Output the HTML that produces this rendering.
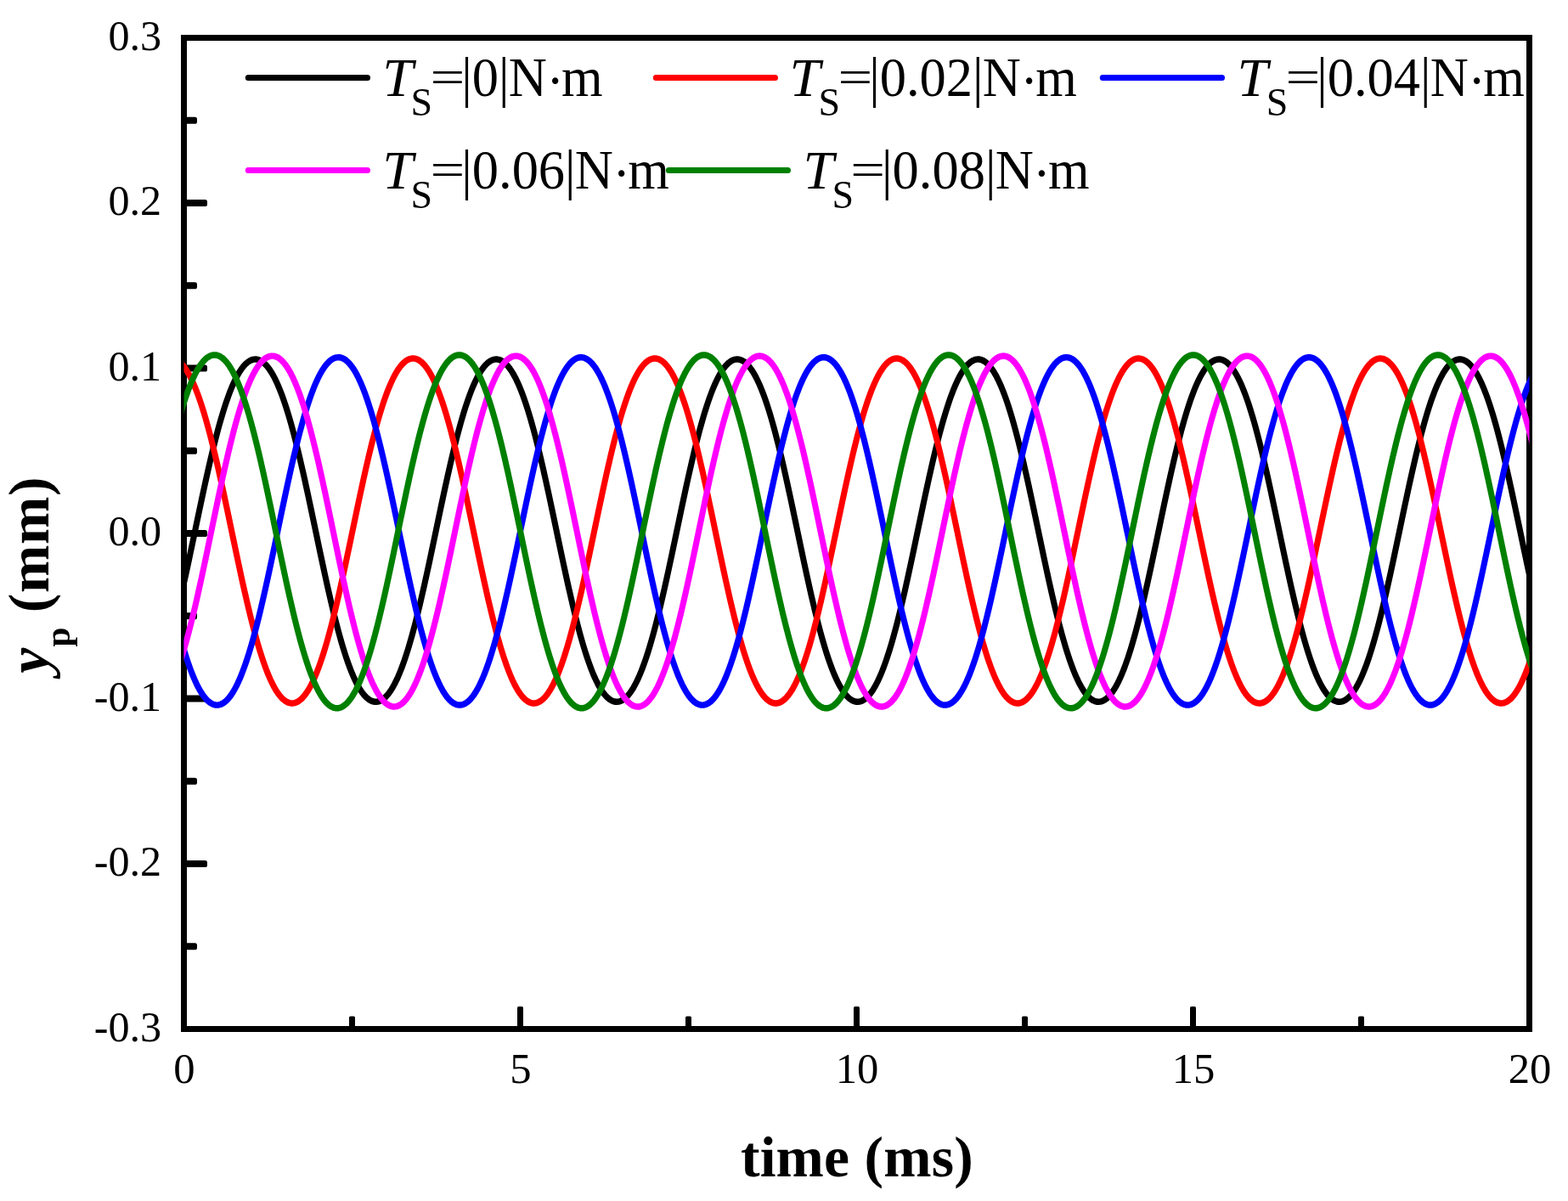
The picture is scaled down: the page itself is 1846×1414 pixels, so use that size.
<!DOCTYPE html>
<html lang="en"><head><meta charset="utf-8"><title>yp vs time</title>
<style>
html,body{margin:0;padding:0;background:#fff;}
body{width:1846px;height:1414px;overflow:hidden;}
svg{display:block;}
text{font-family:"Liberation Serif",serif;fill:#000;}
.tick{font-size:50.7px;}
.leg{font-size:62.5px;}
.sub{font-size:46px;}
.title{font-size:67.6px;font-weight:bold;}
.it{font-style:italic;}
</style></head><body>
<svg width="1846" height="1414" viewBox="0 0 1846 1414">
<rect x="0" y="0" width="1846" height="1414" fill="#ffffff"/>
<defs><clipPath id="plot"><rect x="216.50" y="44.50" width="1584.00" height="1167.00"/></clipPath></defs>
<rect x="216.50" y="44.50" width="1584.00" height="1167.00" fill="none" stroke="#000" stroke-width="7"/>
<g fill="#000"><rect x="216.00" y="137.75" width="16.00" height="8" rx="2.6"/><rect x="216.00" y="235.00" width="28.00" height="8" rx="2.6"/><rect x="216.00" y="332.25" width="16.00" height="8" rx="2.6"/><rect x="216.00" y="429.50" width="28.00" height="8" rx="2.6"/><rect x="216.00" y="526.75" width="16.00" height="8" rx="2.6"/><rect x="216.00" y="624.00" width="28.00" height="8" rx="2.6"/><rect x="216.00" y="721.25" width="16.00" height="8" rx="2.6"/><rect x="216.00" y="818.50" width="28.00" height="8" rx="2.6"/><rect x="216.00" y="915.75" width="16.00" height="8" rx="2.6"/><rect x="216.00" y="1013.00" width="28.00" height="8" rx="2.6"/><rect x="216.00" y="1110.25" width="16.00" height="8" rx="2.6"/><rect x="411.00" y="1196.40" width="7" height="15.60" rx="1.6"/><rect x="609.00" y="1185.00" width="7" height="27.00" rx="1.6"/><rect x="807.00" y="1196.40" width="7" height="15.60" rx="1.6"/><rect x="1005.00" y="1185.00" width="7" height="27.00" rx="1.6"/><rect x="1203.00" y="1196.40" width="7" height="15.60" rx="1.6"/><rect x="1401.00" y="1185.00" width="7" height="27.00" rx="1.6"/><rect x="1599.00" y="1196.40" width="7" height="15.60" rx="1.6"/></g>
<g clip-path="url(#plot)"><g fill="none" stroke-width="7.1" stroke-linejoin="round" transform="scale(1,1.05)">
<path stroke="#000000" d="M210.5 678.72 L212.0 672.65 L213.5 666.47 L215.0 660.18 L216.5 653.80 L218.0 647.32 L219.5 640.77 L221.0 634.15 L222.5 627.47 L224.0 620.75 L225.5 613.98 L227.0 607.18 L228.5 600.36 L230.0 593.54 L231.5 586.72 L233.0 579.91 L234.5 573.12 L236.0 566.37 L237.5 559.66 L239.0 553.00 L240.5 546.41 L242.0 539.89 L243.5 533.45 L245.0 527.10 L246.5 520.85 L248.0 514.72 L249.5 508.69 L251.0 502.79 L252.5 497.03 L254.0 491.40 L255.5 485.91 L257.0 480.57 L258.5 475.39 L260.0 470.37 L261.5 465.51 L263.0 460.82 L264.5 456.30 L266.0 451.95 L267.5 447.79 L269.0 443.80 L270.5 439.99 L272.0 436.37 L273.5 432.93 L275.0 429.68 L276.5 426.62 L278.0 423.74 L279.5 421.04 L281.0 418.54 L282.5 416.22 L284.0 414.09 L285.5 412.15 L287.0 410.39 L288.5 408.81 L290.0 407.43 L291.5 406.22 L293.0 405.20 L294.5 404.37 L296.0 403.72 L297.5 403.25 L299.0 402.96 L300.5 402.86 L302.0 402.94 L303.5 403.20 L305.0 403.64 L306.5 404.27 L308.0 405.08 L309.5 406.08 L311.0 407.26 L312.5 408.62 L314.0 410.17 L315.5 411.90 L317.0 413.82 L318.5 415.93 L320.0 418.22 L321.5 420.70 L323.0 423.37 L324.5 426.22 L326.0 429.26 L327.5 432.49 L329.0 435.90 L330.5 439.50 L332.0 443.28 L333.5 447.24 L335.0 451.39 L336.5 455.71 L338.0 460.20 L339.5 464.87 L341.0 469.71 L342.5 474.71 L344.0 479.87 L345.5 485.19 L347.0 490.66 L348.5 496.27 L350.0 502.02 L351.5 507.90 L353.0 513.91 L354.5 520.03 L356.0 526.26 L357.5 532.60 L359.0 539.02 L360.5 545.53 L362.0 552.12 L363.5 558.77 L365.0 565.47 L366.5 572.22 L368.0 579.00 L369.5 585.81 L371.0 592.63 L372.5 599.45 L374.0 606.27 L375.5 613.07 L377.0 619.85 L378.5 626.58 L380.0 633.27 L381.5 639.89 L383.0 646.45 L384.5 652.94 L386.0 659.33 L387.5 665.64 L389.0 671.83 L390.5 677.92 L392.0 683.88 L393.5 689.72 L395.0 695.43 L396.5 700.99 L398.0 706.41 L399.5 711.68 L401.0 716.79 L402.5 721.73 L404.0 726.51 L405.5 731.12 L407.0 735.56 L408.5 739.82 L410.0 743.91 L411.5 747.81 L413.0 751.53 L414.5 755.07 L416.0 758.42 L417.5 761.58 L419.0 764.56 L420.5 767.35 L422.0 769.96 L423.5 772.37 L425.0 774.61 L426.5 776.65 L428.0 778.51 L429.5 780.18 L431.0 781.67 L432.5 782.97 L434.0 784.08 L435.5 785.02 L437.0 785.77 L438.5 786.33 L440.0 786.72 L441.5 786.92 L443.0 786.94 L444.5 786.77 L446.0 786.43 L447.5 785.90 L449.0 785.18 L450.5 784.29 L452.0 783.21 L453.5 781.94 L455.0 780.49 L456.5 778.86 L458.0 777.04 L459.5 775.03 L461.0 772.84 L462.5 770.46 L464.0 767.89 L465.5 765.13 L467.0 762.19 L468.5 759.07 L470.0 755.75 L471.5 752.25 L473.0 748.57 L474.5 744.70 L476.0 740.66 L477.5 736.43 L479.0 732.03 L480.5 727.45 L482.0 722.70 L483.5 717.79 L485.0 712.71 L486.5 707.48 L488.0 702.09 L489.5 696.55 L491.0 690.88 L492.5 685.06 L494.0 679.12 L495.5 673.06 L497.0 666.88 L498.5 660.60 L500.0 654.22 L501.5 647.76 L503.0 641.21 L504.5 634.60 L506.0 627.92 L507.5 621.20 L509.0 614.43 L510.5 607.63 L512.0 600.82 L513.5 593.99 L515.0 587.17 L516.5 580.36 L518.0 573.57 L519.5 566.82 L521.0 560.10 L522.5 553.44 L524.0 546.84 L525.5 540.32 L527.0 533.88 L528.5 527.52 L530.0 521.27 L531.5 515.12 L533.0 509.09 L534.5 503.18 L536.0 497.41 L537.5 491.77 L539.0 486.27 L540.5 480.92 L542.0 475.73 L543.5 470.70 L545.0 465.83 L546.5 461.12 L548.0 456.59 L549.5 452.24 L551.0 448.06 L552.5 444.06 L554.0 440.24 L555.5 436.61 L557.0 433.16 L558.5 429.89 L560.0 426.81 L561.5 423.92 L563.0 421.22 L564.5 418.70 L566.0 416.37 L567.5 414.23 L569.0 412.27 L570.5 410.50 L572.0 408.91 L573.5 407.51 L575.0 406.30 L576.5 405.27 L578.0 404.42 L579.5 403.75 L581.0 403.27 L582.5 402.97 L584.0 402.86 L585.5 402.93 L587.0 403.18 L588.5 403.61 L590.0 404.22 L591.5 405.02 L593.0 406.00 L594.5 407.17 L596.0 408.52 L597.5 410.06 L599.0 411.78 L600.5 413.69 L602.0 415.78 L603.5 418.06 L605.0 420.53 L606.5 423.18 L608.0 426.02 L609.5 429.05 L611.0 432.27 L612.5 435.67 L614.0 439.25 L615.5 443.02 L617.0 446.97 L618.5 451.10 L620.0 455.41 L621.5 459.90 L623.0 464.55 L624.5 469.38 L626.0 474.37 L627.5 479.52 L629.0 484.83 L630.5 490.29 L632.0 495.89 L633.5 501.63 L635.0 507.50 L636.5 513.50 L638.0 519.62 L639.5 525.84 L641.0 532.17 L642.5 538.59 L644.0 545.10 L645.5 551.68 L647.0 558.32 L648.5 565.02 L650.0 571.77 L651.5 578.55 L653.0 585.35 L654.5 592.17 L656.0 599.00 L657.5 605.82 L659.0 612.62 L660.5 619.39 L662.0 626.13 L663.5 632.82 L665.0 639.45 L666.5 646.02 L668.0 652.51 L669.5 658.91 L671.0 665.22 L672.5 671.42 L674.0 677.52 L675.5 683.49 L677.0 689.34 L678.5 695.05 L680.0 700.63 L681.5 706.05 L683.0 711.33 L684.5 716.45 L686.0 721.41 L687.5 726.20 L689.0 730.82 L690.5 735.27 L692.0 739.55 L693.5 743.64 L695.0 747.56 L696.5 751.29 L698.0 754.84 L699.5 758.20 L701.0 761.38 L702.5 764.37 L704.0 767.17 L705.5 769.79 L707.0 772.22 L708.5 774.46 L710.0 776.52 L711.5 778.39 L713.0 780.07 L714.5 781.57 L716.0 782.89 L717.5 784.02 L719.0 784.96 L720.5 785.72 L722.0 786.30 L723.5 786.70 L725.0 786.91 L726.5 786.94 L728.0 786.79 L729.5 786.46 L731.0 785.94 L732.5 785.24 L734.0 784.35 L735.5 783.28 L737.0 782.03 L738.5 780.59 L740.0 778.97 L741.5 777.16 L743.0 775.17 L744.5 772.99 L746.0 770.62 L747.5 768.07 L749.0 765.32 L750.5 762.39 L752.0 759.28 L753.5 755.98 L755.0 752.49 L756.5 748.82 L758.0 744.97 L759.5 740.93 L761.0 736.72 L762.5 732.32 L764.0 727.76 L765.5 723.02 L767.0 718.12 L768.5 713.05 L770.0 707.83 L771.5 702.45 L773.0 696.93 L774.5 691.26 L776.0 685.45 L777.5 679.52 L779.0 673.47 L780.5 667.30 L782.0 661.02 L783.5 654.65 L785.0 648.19 L786.5 641.65 L788.0 635.04 L789.5 628.37 L791.0 621.65 L792.5 614.88 L794.0 608.09 L795.5 601.27 L797.0 594.45 L798.5 587.63 L800.0 580.81 L801.5 574.02 L803.0 567.27 L804.5 560.55 L806.0 553.88 L807.5 547.28 L809.0 540.75 L810.5 534.30 L812.0 527.94 L813.5 521.68 L815.0 515.53 L816.5 509.49 L818.0 503.57 L819.5 497.79 L821.0 492.14 L822.5 486.63 L824.0 481.27 L825.5 476.07 L827.0 471.03 L828.5 466.14 L830.0 461.43 L831.5 456.89 L833.0 452.52 L834.5 448.33 L836.0 444.32 L837.5 440.49 L839.0 436.84 L840.5 433.38 L842.0 430.10 L843.5 427.01 L845.0 424.11 L846.5 421.39 L848.0 418.86 L849.5 416.52 L851.0 414.36 L852.5 412.39 L854.0 410.61 L855.5 409.01 L857.0 407.60 L858.5 406.37 L860.0 405.33 L861.5 404.47 L863.0 403.79 L864.5 403.30 L866.0 402.99 L867.5 402.86 L869.0 402.92 L870.5 403.15 L872.0 403.57 L873.5 404.18 L875.0 404.96 L876.5 405.93 L878.0 407.09 L879.5 408.43 L881.0 409.95 L882.5 411.66 L884.0 413.55 L885.5 415.64 L887.0 417.90 L888.5 420.36 L890.0 423.00 L891.5 425.83 L893.0 428.85 L894.5 432.05 L896.0 435.44 L897.5 439.01 L899.0 442.77 L900.5 446.70 L902.0 450.82 L903.5 455.12 L905.0 459.59 L906.5 464.24 L908.0 469.05 L909.5 474.03 L911.0 479.17 L912.5 484.47 L914.0 489.92 L915.5 495.51 L917.0 501.24 L918.5 507.11 L920.0 513.10 L921.5 519.21 L923.0 525.43 L924.5 531.75 L926.0 538.16 L927.5 544.66 L929.0 551.24 L930.5 557.88 L932.0 564.57 L933.5 571.32 L935.0 578.10 L936.5 584.90 L938.0 591.72 L939.5 598.54 L941.0 605.36 L942.5 612.17 L944.0 618.94 L945.5 625.68 L947.0 632.38 L948.5 639.01 L950.0 645.58 L951.5 652.08 L953.0 658.49 L954.5 664.80 L956.0 671.01 L957.5 677.11 L959.0 683.10 L960.5 688.95 L962.0 694.68 L963.5 700.26 L965.0 705.70 L966.5 710.98 L968.0 716.11 L969.5 721.08 L971.0 725.89 L972.5 730.52 L974.0 734.98 L975.5 739.27 L977.0 743.37 L978.5 747.30 L980.0 751.04 L981.5 754.61 L983.0 757.98 L984.5 761.17 L986.0 764.17 L987.5 766.99 L989.0 769.62 L990.5 772.06 L992.0 774.32 L993.5 776.39 L995.0 778.27 L996.5 779.97 L998.0 781.48 L999.5 782.80 L1001.0 783.95 L1002.5 784.90 L1004.0 785.68 L1005.5 786.27 L1007.0 786.68 L1008.5 786.90 L1010.0 786.95 L1011.5 786.81 L1013.0 786.48 L1014.5 785.98 L1016.0 785.29 L1017.5 784.42 L1019.0 783.36 L1020.5 782.12 L1022.0 780.70 L1023.5 779.08 L1025.0 777.29 L1026.5 775.31 L1028.0 773.14 L1029.5 770.78 L1031.0 768.24 L1032.5 765.51 L1034.0 762.60 L1035.5 759.49 L1037.0 756.20 L1038.5 752.73 L1040.0 749.07 L1041.5 745.23 L1043.0 741.21 L1044.5 737.00 L1046.0 732.62 L1047.5 728.07 L1049.0 723.34 L1050.5 718.45 L1052.0 713.40 L1053.5 708.18 L1055.0 702.82 L1056.5 697.30 L1058.0 691.64 L1059.5 685.85 L1061.0 679.92 L1062.5 673.87 L1064.0 667.71 L1065.5 661.45 L1067.0 655.08 L1068.5 648.62 L1070.0 642.09 L1071.5 635.48 L1073.0 628.81 L1074.5 622.09 L1076.0 615.33 L1077.5 608.54 L1079.0 601.73 L1080.5 594.90 L1082.0 588.08 L1083.5 581.27 L1085.0 574.48 L1086.5 567.71 L1088.0 561.00 L1089.5 554.33 L1091.0 547.72 L1092.5 541.18 L1094.0 534.73 L1095.5 528.36 L1097.0 522.10 L1098.5 515.93 L1100.0 509.89 L1101.5 503.96 L1103.0 498.17 L1104.5 492.51 L1106.0 486.99 L1107.5 481.63 L1109.0 476.41 L1110.5 471.36 L1112.0 466.47 L1113.5 461.74 L1115.0 457.19 L1116.5 452.81 L1118.0 448.60 L1119.5 444.58 L1121.0 440.74 L1122.5 437.08 L1124.0 433.61 L1125.5 430.32 L1127.0 427.21 L1128.5 424.30 L1130.0 421.57 L1131.5 419.03 L1133.0 416.67 L1134.5 414.50 L1136.0 412.52 L1137.5 410.72 L1139.0 409.11 L1140.5 407.69 L1142.0 406.45 L1143.5 405.39 L1145.0 404.52 L1146.5 403.83 L1148.0 403.33 L1149.5 403.00 L1151.0 402.86 L1152.5 402.91 L1154.0 403.13 L1155.5 403.54 L1157.0 404.13 L1158.5 404.91 L1160.0 405.86 L1161.5 407.00 L1163.0 408.33 L1164.5 409.84 L1166.0 411.54 L1167.5 413.42 L1169.0 415.49 L1170.5 417.75 L1172.0 420.19 L1173.5 422.82 L1175.0 425.64 L1176.5 428.64 L1178.0 431.83 L1179.5 435.20 L1181.0 438.76 L1182.5 442.51 L1184.0 446.44 L1185.5 450.54 L1187.0 454.83 L1188.5 459.29 L1190.0 463.92 L1191.5 468.73 L1193.0 473.70 L1194.5 478.83 L1196.0 484.11 L1197.5 489.55 L1199.0 495.13 L1200.5 500.86 L1202.0 506.71 L1203.5 512.70 L1205.0 518.80 L1206.5 525.01 L1208.0 531.32 L1209.5 537.73 L1211.0 544.23 L1212.5 550.80 L1214.0 557.43 L1215.5 564.13 L1217.0 570.87 L1218.5 577.64 L1220.0 584.45 L1221.5 591.26 L1223.0 598.09 L1224.5 604.91 L1226.0 611.71 L1227.5 618.49 L1229.0 625.24 L1230.5 631.93 L1232.0 638.57 L1233.5 645.15 L1235.0 651.65 L1236.5 658.06 L1238.0 664.38 L1239.5 670.60 L1241.0 676.71 L1242.5 682.70 L1244.0 688.57 L1245.5 694.30 L1247.0 699.89 L1248.5 705.34 L1250.0 710.64 L1251.5 715.78 L1253.0 720.76 L1254.5 725.57 L1256.0 730.22 L1257.5 734.69 L1259.0 738.99 L1260.5 743.11 L1262.0 747.04 L1263.5 750.80 L1265.0 754.37 L1266.5 757.76 L1268.0 760.96 L1269.5 763.98 L1271.0 766.81 L1272.5 769.45 L1274.0 771.91 L1275.5 774.17 L1277.0 776.26 L1278.5 778.15 L1280.0 779.86 L1281.5 781.38 L1283.0 782.72 L1284.5 783.88 L1286.0 784.85 L1287.5 785.63 L1289.0 786.24 L1290.5 786.66 L1292.0 786.89 L1293.5 786.95 L1295.0 786.82 L1296.5 786.51 L1298.0 786.02 L1299.5 785.34 L1301.0 784.48 L1302.5 783.44 L1304.0 782.21 L1305.5 780.80 L1307.0 779.20 L1308.5 777.41 L1310.0 775.45 L1311.5 773.29 L1313.0 770.95 L1314.5 768.42 L1316.0 765.70 L1317.5 762.80 L1319.0 759.71 L1320.5 756.43 L1322.0 752.97 L1323.5 749.32 L1325.0 745.49 L1326.5 741.48 L1328.0 737.29 L1329.5 732.92 L1331.0 728.38 L1332.5 723.66 L1334.0 718.78 L1335.5 713.74 L1337.0 708.54 L1338.5 703.18 L1340.0 697.67 L1341.5 692.02 L1343.0 686.24 L1344.5 680.32 L1346.0 674.28 L1347.5 668.13 L1349.0 661.87 L1350.5 655.51 L1352.0 649.06 L1353.5 642.53 L1355.0 635.92 L1356.5 629.26 L1358.0 622.54 L1359.5 615.79 L1361.0 609.00 L1362.5 602.18 L1364.0 595.36 L1365.5 588.54 L1367.0 581.72 L1368.5 574.93 L1370.0 568.16 L1371.5 561.44 L1373.0 554.77 L1374.5 548.16 L1376.0 541.62 L1377.5 535.16 L1379.0 528.79 L1380.5 522.51 L1382.0 516.34 L1383.5 510.29 L1385.0 504.36 L1386.5 498.55 L1388.0 492.88 L1389.5 487.36 L1391.0 481.98 L1392.5 476.76 L1394.0 471.69 L1395.5 466.79 L1397.0 462.05 L1398.5 457.48 L1400.0 453.09 L1401.5 448.88 L1403.0 444.84 L1404.5 440.99 L1406.0 437.32 L1407.5 433.83 L1409.0 430.53 L1410.5 427.41 L1412.0 424.49 L1413.5 421.74 L1415.0 419.19 L1416.5 416.82 L1418.0 414.64 L1419.5 412.65 L1421.0 410.84 L1422.5 409.22 L1424.0 407.78 L1425.5 406.53 L1427.0 405.46 L1428.5 404.57 L1430.0 403.87 L1431.5 403.35 L1433.0 403.02 L1434.5 402.87 L1436.0 402.90 L1437.5 403.11 L1439.0 403.51 L1440.5 404.09 L1442.0 404.85 L1443.5 405.79 L1445.0 406.92 L1446.5 408.24 L1448.0 409.74 L1449.5 411.42 L1451.0 413.29 L1452.5 415.35 L1454.0 417.59 L1455.5 420.02 L1457.0 422.64 L1458.5 425.44 L1460.0 428.43 L1461.5 431.61 L1463.0 434.97 L1464.5 438.52 L1466.0 442.25 L1467.5 446.17 L1469.0 450.26 L1470.5 454.54 L1472.0 458.99 L1473.5 463.61 L1475.0 468.40 L1476.5 473.36 L1478.0 478.48 L1479.5 483.76 L1481.0 489.18 L1482.5 494.76 L1484.0 500.47 L1485.5 506.32 L1487.0 512.29 L1488.5 518.39 L1490.0 524.59 L1491.5 530.90 L1493.0 537.30 L1494.5 543.79 L1496.0 550.36 L1497.5 556.99 L1499.0 563.68 L1500.5 570.41 L1502.0 577.19 L1503.5 583.99 L1505.0 590.81 L1506.5 597.63 L1508.0 604.46 L1509.5 611.26 L1511.0 618.04 L1512.5 624.79 L1514.0 631.49 L1515.5 638.13 L1517.0 644.71 L1518.5 651.22 L1520.0 657.64 L1521.5 663.97 L1523.0 670.19 L1524.5 676.31 L1526.0 682.31 L1527.5 688.18 L1529.0 693.92 L1530.5 699.52 L1532.0 704.98 L1533.5 710.29 L1535.0 715.44 L1536.5 720.43 L1538.0 725.25 L1539.5 729.91 L1541.0 734.40 L1542.5 738.70 L1544.0 742.84 L1545.5 746.79 L1547.0 750.56 L1548.5 754.14 L1550.0 757.54 L1551.5 760.76 L1553.0 763.78 L1554.5 766.63 L1556.0 769.28 L1557.5 771.75 L1559.0 774.03 L1560.5 776.12 L1562.0 778.03 L1563.5 779.75 L1565.0 781.29 L1566.5 782.64 L1568.0 783.80 L1569.5 784.79 L1571.0 785.59 L1572.5 786.20 L1574.0 786.63 L1575.5 786.88 L1577.0 786.95 L1578.5 786.84 L1580.0 786.54 L1581.5 786.06 L1583.0 785.39 L1584.5 784.54 L1586.0 783.51 L1587.5 782.30 L1589.0 780.90 L1590.5 779.31 L1592.0 777.54 L1593.5 775.58 L1595.0 773.44 L1596.5 771.11 L1598.0 768.59 L1599.5 765.89 L1601.0 763.00 L1602.5 759.92 L1604.0 756.65 L1605.5 753.20 L1607.0 749.57 L1608.5 745.75 L1610.0 741.75 L1611.5 737.57 L1613.0 733.22 L1614.5 728.69 L1616.0 723.98 L1617.5 719.11 L1619.0 714.08 L1620.5 708.89 L1622.0 703.54 L1623.5 698.04 L1625.0 692.40 L1626.5 686.63 L1628.0 680.72 L1629.5 674.69 L1631.0 668.54 L1632.5 662.29 L1634.0 655.93 L1635.5 649.49 L1637.0 642.96 L1638.5 636.37 L1640.0 629.71 L1641.5 622.99 L1643.0 616.24 L1644.5 609.45 L1646.0 602.64 L1647.5 595.81 L1649.0 588.99 L1650.5 582.18 L1652.0 575.38 L1653.5 568.61 L1655.0 561.89 L1656.5 555.21 L1658.0 548.60 L1659.5 542.05 L1661.0 535.59 L1662.5 529.21 L1664.0 522.93 L1665.5 516.75 L1667.0 510.69 L1668.5 504.75 L1670.0 498.93 L1671.5 493.26 L1673.0 487.72 L1674.5 482.33 L1676.0 477.10 L1677.5 472.02 L1679.0 467.11 L1680.5 462.36 L1682.0 457.78 L1683.5 453.38 L1685.0 449.15 L1686.5 445.11 L1688.0 441.24 L1689.5 437.56 L1691.0 434.06 L1692.5 430.74 L1694.0 427.62 L1695.5 424.68 L1697.0 421.92 L1698.5 419.35 L1700.0 416.97 L1701.5 414.78 L1703.0 412.77 L1704.5 410.95 L1706.0 409.32 L1707.5 407.87 L1709.0 406.60 L1710.5 405.52 L1712.0 404.63 L1713.5 403.91 L1715.0 403.38 L1716.5 403.04 L1718.0 402.87 L1719.5 402.89 L1721.0 403.09 L1722.5 403.47 L1724.0 404.04 L1725.5 404.79 L1727.0 405.72 L1728.5 406.84 L1730.0 408.14 L1731.5 409.63 L1733.0 411.30 L1734.5 413.16 L1736.0 415.20 L1737.5 417.44 L1739.0 419.85 L1740.5 422.46 L1742.0 425.25 L1743.5 428.23 L1745.0 431.39 L1746.5 434.74 L1748.0 438.28 L1749.5 442.00 L1751.0 445.90 L1752.5 449.99 L1754.0 454.25 L1755.5 458.69 L1757.0 463.30 L1758.5 468.08 L1760.0 473.02 L1761.5 478.13 L1763.0 483.40 L1764.5 488.82 L1766.0 494.38 L1767.5 500.09 L1769.0 505.92 L1770.5 511.89 L1772.0 517.98 L1773.5 524.17 L1775.0 530.48 L1776.5 536.87 L1778.0 543.35 L1779.5 549.92 L1781.0 556.54 L1782.5 563.23 L1784.0 569.96 L1785.5 576.74 L1787.0 583.54 L1788.5 590.36 L1790.0 597.18 L1791.5 604.00 L1793.0 610.81 L1794.5 617.59 L1796.0 624.34 L1797.5 631.04 L1799.0 637.69 L1800.5 644.28 L1802.0 650.79 L1803.5 657.21 L1805.0 663.55 L1806.5 669.78"/>
<path stroke="#ff0000" d="M210.5 405.20 L212.0 406.39 L213.5 407.76 L215.0 409.32 L216.5 411.07 L218.0 413.00 L219.5 415.12 L221.0 417.42 L222.5 419.92 L224.0 422.59 L225.5 425.46 L227.0 428.51 L228.5 431.75 L230.0 435.17 L231.5 438.78 L233.0 442.57 L234.5 446.54 L236.0 450.70 L237.5 455.02 L239.0 459.53 L240.5 464.21 L242.0 469.05 L243.5 474.06 L245.0 479.23 L246.5 484.55 L248.0 490.03 L249.5 495.65 L251.0 501.41 L252.5 507.29 L254.0 513.31 L255.5 519.44 L257.0 525.68 L258.5 532.02 L260.0 538.46 L261.5 544.98 L263.0 551.57 L264.5 558.23 L266.0 564.95 L267.5 571.71 L269.0 578.50 L270.5 585.32 L272.0 592.16 L273.5 599.00 L275.0 605.84 L276.5 612.66 L278.0 619.45 L279.5 626.20 L281.0 632.91 L282.5 639.57 L284.0 646.15 L285.5 652.66 L287.0 659.09 L288.5 665.42 L290.0 671.65 L291.5 677.77 L293.0 683.78 L294.5 689.65 L296.0 695.40 L297.5 701.00 L299.0 706.46 L300.5 711.77 L302.0 716.92 L303.5 721.92 L305.0 726.75 L306.5 731.40 L308.0 735.89 L309.5 740.20 L311.0 744.34 L312.5 748.29 L314.0 752.07 L315.5 755.66 L317.0 759.06 L318.5 762.28 L320.0 765.31 L321.5 768.16 L323.0 770.82 L324.5 773.29 L326.0 775.58 L327.5 777.68 L329.0 779.59 L330.5 781.32 L332.0 782.86 L333.5 784.22 L335.0 785.39 L336.5 786.38 L338.0 787.18 L339.5 787.80 L341.0 788.24 L342.5 788.50 L344.0 788.57 L345.5 788.46 L347.0 788.17 L348.5 787.69 L350.0 787.04 L351.5 786.19 L353.0 785.17 L354.5 783.96 L356.0 782.56 L357.5 780.99 L359.0 779.22 L360.5 777.27 L362.0 775.13 L363.5 772.81 L365.0 770.30 L366.5 767.60 L368.0 764.72 L369.5 761.65 L371.0 758.39 L372.5 754.95 L374.0 751.33 L375.5 747.52 L377.0 743.53 L378.5 739.36 L380.0 735.01 L381.5 730.49 L383.0 725.79 L384.5 720.93 L386.0 715.91 L387.5 710.72 L389.0 705.38 L390.5 699.89 L392.0 694.26 L393.5 688.49 L395.0 682.59 L396.5 676.56 L398.0 670.42 L399.5 664.17 L401.0 657.81 L402.5 651.37 L404.0 644.84 L405.5 638.24 L407.0 631.58 L408.5 624.86 L410.0 618.09 L411.5 611.29 L413.0 604.47 L414.5 597.63 L416.0 590.79 L417.5 583.96 L419.0 577.14 L420.5 570.35 L422.0 563.60 L423.5 556.89 L425.0 550.25 L426.5 543.67 L428.0 537.16 L429.5 530.75 L431.0 524.42 L432.5 518.21 L434.0 512.10 L435.5 506.11 L437.0 500.24 L438.5 494.51 L440.0 488.92 L441.5 483.48 L443.0 478.18 L444.5 473.05 L446.0 468.07 L447.5 463.26 L449.0 458.61 L450.5 454.14 L452.0 449.85 L453.5 445.73 L455.0 441.80 L456.5 438.04 L458.0 434.47 L459.5 431.09 L461.0 427.89 L462.5 424.87 L464.0 422.04 L465.5 419.40 L467.0 416.95 L468.5 414.68 L470.0 412.60 L471.5 410.71 L473.0 409.00 L474.5 407.47 L476.0 406.14 L477.5 404.98 L479.0 404.01 L480.5 403.22 L482.0 402.62 L483.5 402.20 L485.0 401.96 L486.5 401.91 L488.0 402.04 L489.5 402.35 L491.0 402.84 L492.5 403.52 L494.0 404.38 L495.5 405.42 L497.0 406.65 L498.5 408.06 L500.0 409.66 L501.5 411.44 L503.0 413.41 L504.5 415.57 L506.0 417.91 L507.5 420.44 L509.0 423.15 L510.5 426.05 L512.0 429.14 L513.5 432.42 L515.0 435.88 L516.5 439.52 L518.0 443.35 L519.5 447.36 L521.0 451.55 L522.5 455.91 L524.0 460.45 L525.5 465.16 L527.0 470.04 L528.5 475.08 L530.0 480.28 L531.5 485.64 L533.0 491.14 L534.5 496.79 L536.0 502.57 L537.5 508.49 L539.0 514.53 L540.5 520.68 L542.0 526.94 L543.5 533.30 L545.0 539.76 L546.5 546.29 L548.0 552.90 L549.5 559.57 L551.0 566.29 L552.5 573.06 L554.0 579.86 L555.5 586.69 L557.0 593.53 L558.5 600.37 L560.0 607.20 L561.5 614.02 L563.0 620.80 L564.5 627.55 L566.0 634.25 L567.5 640.89 L569.0 647.46 L570.5 653.96 L572.0 660.37 L573.5 666.68 L575.0 672.89 L576.5 678.98 L578.0 684.96 L579.5 690.81 L581.0 696.53 L582.5 702.11 L584.0 707.54 L585.5 712.81 L587.0 717.94 L588.5 722.90 L590.0 727.69 L591.5 732.32 L593.0 736.77 L594.5 741.05 L596.0 745.14 L597.5 749.06 L599.0 752.80 L600.5 756.35 L602.0 759.72 L603.5 762.90 L605.0 765.90 L606.5 768.71 L608.0 771.33 L609.5 773.76 L611.0 776.01 L612.5 778.07 L614.0 779.95 L615.5 781.64 L617.0 783.14 L618.5 784.46 L620.0 785.60 L621.5 786.55 L623.0 787.32 L624.5 787.91 L626.0 788.31 L627.5 788.53 L629.0 788.56 L630.5 788.42 L632.0 788.09 L633.5 787.58 L635.0 786.88 L636.5 786.00 L638.0 784.94 L639.5 783.69 L641.0 782.26 L642.5 780.65 L644.0 778.85 L645.5 776.86 L647.0 774.68 L648.5 772.32 L650.0 769.78 L651.5 767.04 L653.0 764.12 L654.5 761.01 L656.0 757.72 L657.5 754.24 L659.0 750.58 L660.5 746.73 L662.0 742.71 L663.5 738.50 L665.0 734.12 L666.5 729.56 L668.0 724.83 L669.5 719.94 L671.0 714.88 L672.5 709.67 L674.0 704.30 L675.5 698.78 L677.0 693.11 L678.5 687.32 L680.0 681.39 L681.5 675.34 L683.0 669.17 L684.5 662.90 L686.0 656.53 L687.5 650.07 L689.0 643.53 L690.5 636.91 L692.0 630.24 L693.5 623.51 L695.0 616.73 L696.5 609.93 L698.0 603.10 L699.5 596.26 L701.0 589.42 L702.5 582.59 L704.0 575.78 L705.5 569.00 L707.0 562.25 L708.5 555.56 L710.0 548.93 L711.5 542.36 L713.0 535.87 L714.5 529.48 L716.0 523.17 L717.5 516.97 L719.0 510.89 L720.5 504.92 L722.0 499.09 L723.5 493.38 L725.0 487.82 L726.5 482.41 L728.0 477.14 L729.5 472.04 L731.0 467.09 L732.5 462.32 L734.0 457.71 L735.5 453.27 L737.0 449.01 L738.5 444.93 L740.0 441.03 L741.5 437.31 L743.0 433.78 L744.5 430.43 L746.0 427.27 L747.5 424.29 L749.0 421.50 L750.5 418.90 L752.0 416.48 L753.5 414.25 L755.0 412.21 L756.5 410.35 L758.0 408.68 L759.5 407.19 L761.0 405.89 L762.5 404.77 L764.0 403.84 L765.5 403.09 L767.0 402.52 L768.5 402.14 L770.0 401.94 L771.5 401.92 L773.0 402.08 L774.5 402.43 L776.0 402.96 L777.5 403.67 L779.0 404.57 L780.5 405.65 L782.0 406.92 L783.5 408.37 L785.0 410.00 L786.5 411.82 L788.0 413.83 L789.5 416.02 L791.0 418.40 L792.5 420.96 L794.0 423.72 L795.5 426.66 L797.0 429.78 L798.5 433.10 L800.0 436.59 L801.5 440.27 L803.0 444.14 L804.5 448.18 L806.0 452.41 L807.5 456.81 L809.0 461.38 L810.5 466.12 L812.0 471.04 L813.5 476.11 L815.0 481.34 L816.5 486.73 L818.0 492.26 L819.5 497.93 L821.0 503.75 L822.5 509.69 L824.0 515.75 L825.5 521.92 L827.0 528.21 L828.5 534.59 L830.0 541.06 L831.5 547.61 L833.0 554.23 L834.5 560.91 L836.0 567.64 L837.5 574.42 L839.0 581.23 L840.5 588.06 L842.0 594.90 L843.5 601.74 L845.0 608.57 L846.5 615.38 L848.0 622.16 L849.5 628.89 L851.0 635.58 L852.5 642.21 L854.0 648.77 L855.5 655.25 L857.0 661.64 L858.5 667.93 L860.0 674.12 L861.5 680.19 L863.0 686.14 L864.5 691.97 L866.0 697.66 L867.5 703.20 L869.0 708.60 L870.5 713.85 L872.0 718.94 L873.5 723.87 L875.0 728.63 L876.5 733.22 L878.0 737.64 L879.5 741.88 L881.0 745.94 L882.5 749.82 L884.0 753.52 L885.5 757.04 L887.0 760.37 L888.5 763.51 L890.0 766.47 L891.5 769.24 L893.0 771.83 L894.5 774.23 L896.0 776.44 L897.5 778.46 L899.0 780.30 L900.5 781.96 L902.0 783.42 L903.5 784.71 L905.0 785.81 L906.5 786.72 L908.0 787.45 L909.5 788.00 L911.0 788.37 L912.5 788.55 L914.0 788.55 L915.5 788.37 L917.0 788.00 L918.5 787.45 L920.0 786.72 L921.5 785.81 L923.0 784.71 L924.5 783.42 L926.0 781.96 L927.5 780.30 L929.0 778.46 L930.5 776.44 L932.0 774.23 L933.5 771.83 L935.0 769.24 L936.5 766.47 L938.0 763.51 L939.5 760.37 L941.0 757.04 L942.5 753.52 L944.0 749.82 L945.5 745.94 L947.0 741.88 L948.5 737.64 L950.0 733.22 L951.5 728.63 L953.0 723.87 L954.5 718.94 L956.0 713.85 L957.5 708.60 L959.0 703.20 L960.5 697.66 L962.0 691.97 L963.5 686.14 L965.0 680.19 L966.5 674.12 L968.0 667.93 L969.5 661.64 L971.0 655.25 L972.5 648.77 L974.0 642.21 L975.5 635.58 L977.0 628.89 L978.5 622.16 L980.0 615.38 L981.5 608.57 L983.0 601.74 L984.5 594.90 L986.0 588.06 L987.5 581.23 L989.0 574.42 L990.5 567.64 L992.0 560.91 L993.5 554.23 L995.0 547.61 L996.5 541.06 L998.0 534.59 L999.5 528.21 L1001.0 521.92 L1002.5 515.75 L1004.0 509.69 L1005.5 503.75 L1007.0 497.93 L1008.5 492.26 L1010.0 486.73 L1011.5 481.34 L1013.0 476.11 L1014.5 471.04 L1016.0 466.12 L1017.5 461.38 L1019.0 456.81 L1020.5 452.41 L1022.0 448.18 L1023.5 444.14 L1025.0 440.27 L1026.5 436.59 L1028.0 433.10 L1029.5 429.78 L1031.0 426.66 L1032.5 423.72 L1034.0 420.96 L1035.5 418.40 L1037.0 416.02 L1038.5 413.83 L1040.0 411.82 L1041.5 410.00 L1043.0 408.37 L1044.5 406.92 L1046.0 405.65 L1047.5 404.57 L1049.0 403.67 L1050.5 402.96 L1052.0 402.43 L1053.5 402.08 L1055.0 401.92 L1056.5 401.94 L1058.0 402.14 L1059.5 402.52 L1061.0 403.09 L1062.5 403.84 L1064.0 404.77 L1065.5 405.89 L1067.0 407.19 L1068.5 408.68 L1070.0 410.35 L1071.5 412.21 L1073.0 414.25 L1074.5 416.48 L1076.0 418.90 L1077.5 421.50 L1079.0 424.29 L1080.5 427.27 L1082.0 430.43 L1083.5 433.78 L1085.0 437.31 L1086.5 441.03 L1088.0 444.93 L1089.5 449.01 L1091.0 453.27 L1092.5 457.71 L1094.0 462.32 L1095.5 467.09 L1097.0 472.04 L1098.5 477.14 L1100.0 482.41 L1101.5 487.82 L1103.0 493.38 L1104.5 499.09 L1106.0 504.92 L1107.5 510.89 L1109.0 516.97 L1110.5 523.17 L1112.0 529.48 L1113.5 535.87 L1115.0 542.36 L1116.5 548.93 L1118.0 555.56 L1119.5 562.25 L1121.0 569.00 L1122.5 575.78 L1124.0 582.59 L1125.5 589.42 L1127.0 596.26 L1128.5 603.10 L1130.0 609.93 L1131.5 616.73 L1133.0 623.51 L1134.5 630.24 L1136.0 636.91 L1137.5 643.53 L1139.0 650.07 L1140.5 656.53 L1142.0 662.90 L1143.5 669.17 L1145.0 675.34 L1146.5 681.39 L1148.0 687.32 L1149.5 693.11 L1151.0 698.78 L1152.5 704.30 L1154.0 709.67 L1155.5 714.88 L1157.0 719.94 L1158.5 724.83 L1160.0 729.56 L1161.5 734.12 L1163.0 738.50 L1164.5 742.71 L1166.0 746.73 L1167.5 750.58 L1169.0 754.24 L1170.5 757.72 L1172.0 761.01 L1173.5 764.12 L1175.0 767.04 L1176.5 769.78 L1178.0 772.32 L1179.5 774.68 L1181.0 776.86 L1182.5 778.85 L1184.0 780.65 L1185.5 782.26 L1187.0 783.69 L1188.5 784.94 L1190.0 786.00 L1191.5 786.88 L1193.0 787.58 L1194.5 788.09 L1196.0 788.42 L1197.5 788.56 L1199.0 788.53 L1200.5 788.31 L1202.0 787.91 L1203.5 787.32 L1205.0 786.55 L1206.5 785.60 L1208.0 784.46 L1209.5 783.14 L1211.0 781.64 L1212.5 779.95 L1214.0 778.07 L1215.5 776.01 L1217.0 773.76 L1218.5 771.33 L1220.0 768.71 L1221.5 765.90 L1223.0 762.90 L1224.5 759.72 L1226.0 756.35 L1227.5 752.80 L1229.0 749.06 L1230.5 745.14 L1232.0 741.05 L1233.5 736.77 L1235.0 732.32 L1236.5 727.69 L1238.0 722.90 L1239.5 717.94 L1241.0 712.81 L1242.5 707.54 L1244.0 702.11 L1245.5 696.53 L1247.0 690.81 L1248.5 684.96 L1250.0 678.98 L1251.5 672.89 L1253.0 666.68 L1254.5 660.37 L1256.0 653.96 L1257.5 647.46 L1259.0 640.89 L1260.5 634.25 L1262.0 627.55 L1263.5 620.80 L1265.0 614.02 L1266.5 607.20 L1268.0 600.37 L1269.5 593.53 L1271.0 586.69 L1272.5 579.86 L1274.0 573.06 L1275.5 566.29 L1277.0 559.57 L1278.5 552.90 L1280.0 546.29 L1281.5 539.76 L1283.0 533.30 L1284.5 526.94 L1286.0 520.68 L1287.5 514.53 L1289.0 508.49 L1290.5 502.57 L1292.0 496.79 L1293.5 491.14 L1295.0 485.64 L1296.5 480.28 L1298.0 475.08 L1299.5 470.04 L1301.0 465.16 L1302.5 460.45 L1304.0 455.91 L1305.5 451.55 L1307.0 447.36 L1308.5 443.35 L1310.0 439.52 L1311.5 435.88 L1313.0 432.42 L1314.5 429.14 L1316.0 426.05 L1317.5 423.15 L1319.0 420.44 L1320.5 417.91 L1322.0 415.57 L1323.5 413.41 L1325.0 411.44 L1326.5 409.66 L1328.0 408.06 L1329.5 406.65 L1331.0 405.42 L1332.5 404.38 L1334.0 403.52 L1335.5 402.84 L1337.0 402.35 L1338.5 402.04 L1340.0 401.91 L1341.5 401.96 L1343.0 402.20 L1344.5 402.62 L1346.0 403.22 L1347.5 404.01 L1349.0 404.98 L1350.5 406.14 L1352.0 407.47 L1353.5 409.00 L1355.0 410.71 L1356.5 412.60 L1358.0 414.68 L1359.5 416.95 L1361.0 419.40 L1362.5 422.04 L1364.0 424.87 L1365.5 427.89 L1367.0 431.09 L1368.5 434.47 L1370.0 438.04 L1371.5 441.80 L1373.0 445.73 L1374.5 449.85 L1376.0 454.14 L1377.5 458.61 L1379.0 463.26 L1380.5 468.07 L1382.0 473.05 L1383.5 478.18 L1385.0 483.48 L1386.5 488.92 L1388.0 494.51 L1389.5 500.24 L1391.0 506.11 L1392.5 512.10 L1394.0 518.21 L1395.5 524.42 L1397.0 530.75 L1398.5 537.16 L1400.0 543.67 L1401.5 550.25 L1403.0 556.89 L1404.5 563.60 L1406.0 570.35 L1407.5 577.14 L1409.0 583.96 L1410.5 590.79 L1412.0 597.63 L1413.5 604.47 L1415.0 611.29 L1416.5 618.09 L1418.0 624.86 L1419.5 631.58 L1421.0 638.24 L1422.5 644.84 L1424.0 651.37 L1425.5 657.81 L1427.0 664.17 L1428.5 670.42 L1430.0 676.56 L1431.5 682.59 L1433.0 688.49 L1434.5 694.26 L1436.0 699.89 L1437.5 705.38 L1439.0 710.72 L1440.5 715.91 L1442.0 720.93 L1443.5 725.79 L1445.0 730.49 L1446.5 735.01 L1448.0 739.36 L1449.5 743.53 L1451.0 747.52 L1452.5 751.33 L1454.0 754.95 L1455.5 758.39 L1457.0 761.65 L1458.5 764.72 L1460.0 767.60 L1461.5 770.30 L1463.0 772.81 L1464.5 775.13 L1466.0 777.27 L1467.5 779.22 L1469.0 780.99 L1470.5 782.56 L1472.0 783.96 L1473.5 785.17 L1475.0 786.19 L1476.5 787.04 L1478.0 787.69 L1479.5 788.17 L1481.0 788.46 L1482.5 788.57 L1484.0 788.50 L1485.5 788.24 L1487.0 787.80 L1488.5 787.18 L1490.0 786.38 L1491.5 785.39 L1493.0 784.22 L1494.5 782.86 L1496.0 781.32 L1497.5 779.59 L1499.0 777.68 L1500.5 775.58 L1502.0 773.29 L1503.5 770.82 L1505.0 768.16 L1506.5 765.31 L1508.0 762.28 L1509.5 759.06 L1511.0 755.66 L1512.5 752.07 L1514.0 748.29 L1515.5 744.34 L1517.0 740.20 L1518.5 735.89 L1520.0 731.40 L1521.5 726.75 L1523.0 721.92 L1524.5 716.92 L1526.0 711.77 L1527.5 706.46 L1529.0 701.00 L1530.5 695.40 L1532.0 689.65 L1533.5 683.78 L1535.0 677.77 L1536.5 671.65 L1538.0 665.42 L1539.5 659.09 L1541.0 652.66 L1542.5 646.15 L1544.0 639.57 L1545.5 632.91 L1547.0 626.20 L1548.5 619.45 L1550.0 612.66 L1551.5 605.84 L1553.0 599.00 L1554.5 592.16 L1556.0 585.32 L1557.5 578.50 L1559.0 571.71 L1560.5 564.95 L1562.0 558.23 L1563.5 551.57 L1565.0 544.98 L1566.5 538.46 L1568.0 532.02 L1569.5 525.68 L1571.0 519.44 L1572.5 513.31 L1574.0 507.29 L1575.5 501.41 L1577.0 495.65 L1578.5 490.03 L1580.0 484.55 L1581.5 479.23 L1583.0 474.06 L1584.5 469.05 L1586.0 464.21 L1587.5 459.53 L1589.0 455.02 L1590.5 450.70 L1592.0 446.54 L1593.5 442.57 L1595.0 438.78 L1596.5 435.17 L1598.0 431.75 L1599.5 428.51 L1601.0 425.46 L1602.5 422.59 L1604.0 419.92 L1605.5 417.42 L1607.0 415.12 L1608.5 413.00 L1610.0 411.07 L1611.5 409.32 L1613.0 407.76 L1614.5 406.39 L1616.0 405.20 L1617.5 404.19 L1619.0 403.37 L1620.5 402.73 L1622.0 402.27 L1623.5 402.00 L1625.0 401.90 L1626.5 402.00 L1628.0 402.27 L1629.5 402.73 L1631.0 403.37 L1632.5 404.19 L1634.0 405.20 L1635.5 406.39 L1637.0 407.76 L1638.5 409.32 L1640.0 411.07 L1641.5 413.00 L1643.0 415.12 L1644.5 417.42 L1646.0 419.92 L1647.5 422.59 L1649.0 425.46 L1650.5 428.51 L1652.0 431.75 L1653.5 435.17 L1655.0 438.78 L1656.5 442.57 L1658.0 446.54 L1659.5 450.70 L1661.0 455.02 L1662.5 459.53 L1664.0 464.21 L1665.5 469.05 L1667.0 474.06 L1668.5 479.23 L1670.0 484.55 L1671.5 490.03 L1673.0 495.65 L1674.5 501.41 L1676.0 507.29 L1677.5 513.31 L1679.0 519.44 L1680.5 525.68 L1682.0 532.02 L1683.5 538.46 L1685.0 544.98 L1686.5 551.57 L1688.0 558.23 L1689.5 564.95 L1691.0 571.71 L1692.5 578.50 L1694.0 585.32 L1695.5 592.16 L1697.0 599.00 L1698.5 605.84 L1700.0 612.66 L1701.5 619.45 L1703.0 626.20 L1704.5 632.91 L1706.0 639.57 L1707.5 646.15 L1709.0 652.66 L1710.5 659.09 L1712.0 665.42 L1713.5 671.65 L1715.0 677.77 L1716.5 683.78 L1718.0 689.65 L1719.5 695.40 L1721.0 701.00 L1722.5 706.46 L1724.0 711.77 L1725.5 716.92 L1727.0 721.92 L1728.5 726.75 L1730.0 731.40 L1731.5 735.89 L1733.0 740.20 L1734.5 744.34 L1736.0 748.29 L1737.5 752.07 L1739.0 755.66 L1740.5 759.06 L1742.0 762.28 L1743.5 765.31 L1745.0 768.16 L1746.5 770.82 L1748.0 773.29 L1749.5 775.58 L1751.0 777.68 L1752.5 779.59 L1754.0 781.32 L1755.5 782.86 L1757.0 784.22 L1758.5 785.39 L1760.0 786.38 L1761.5 787.18 L1763.0 787.80 L1764.5 788.24 L1766.0 788.50 L1767.5 788.57 L1769.0 788.46 L1770.5 788.17 L1772.0 787.69 L1773.5 787.04 L1775.0 786.19 L1776.5 785.17 L1778.0 783.96 L1779.5 782.56 L1781.0 780.99 L1782.5 779.22 L1784.0 777.27 L1785.5 775.13 L1787.0 772.81 L1788.5 770.30 L1790.0 767.60 L1791.5 764.72 L1793.0 761.65 L1794.5 758.39 L1796.0 754.95 L1797.5 751.33 L1799.0 747.52 L1800.5 743.53 L1802.0 739.36 L1803.5 735.01 L1805.0 730.49 L1806.5 725.79"/>
<path stroke="#0000ff" d="M210.5 707.94 L212.0 713.27 L213.5 718.44 L215.0 723.45 L216.5 728.30 L218.0 732.98 L219.5 737.49 L221.0 741.82 L222.5 745.97 L224.0 749.95 L225.5 753.74 L227.0 757.35 L228.5 760.77 L230.0 764.01 L231.5 767.06 L233.0 769.93 L234.5 772.60 L236.0 775.09 L237.5 777.40 L239.0 779.51 L240.5 781.44 L242.0 783.19 L243.5 784.75 L245.0 786.12 L246.5 787.31 L248.0 788.31 L249.5 789.13 L251.0 789.77 L252.5 790.22 L254.0 790.49 L255.5 790.57 L257.0 790.47 L258.5 790.19 L260.0 789.73 L261.5 789.08 L263.0 788.25 L264.5 787.23 L266.0 786.03 L267.5 784.65 L269.0 783.08 L270.5 781.32 L272.0 779.38 L273.5 777.25 L275.0 774.93 L276.5 772.43 L278.0 769.74 L279.5 766.86 L281.0 763.80 L282.5 760.55 L284.0 757.11 L285.5 753.49 L287.0 749.69 L288.5 745.70 L290.0 741.54 L291.5 737.19 L293.0 732.67 L294.5 727.98 L296.0 723.12 L297.5 718.10 L299.0 712.92 L300.5 707.58 L302.0 702.09 L303.5 696.45 L305.0 690.68 L306.5 684.77 L308.0 678.74 L309.5 672.59 L311.0 666.34 L312.5 659.97 L314.0 653.52 L315.5 646.98 L317.0 640.37 L318.5 633.68 L320.0 626.95 L321.5 620.16 L323.0 613.34 L324.5 606.49 L326.0 599.63 L327.5 592.76 L329.0 585.89 L330.5 579.04 L332.0 572.21 L333.5 565.42 L335.0 558.67 L336.5 551.98 L338.0 545.36 L339.5 538.80 L341.0 532.33 L342.5 525.96 L344.0 519.68 L345.5 513.51 L347.0 507.46 L348.5 501.53 L350.0 495.74 L351.5 490.08 L353.0 484.57 L354.5 479.20 L356.0 473.99 L357.5 468.94 L359.0 464.05 L360.5 459.33 L362.0 454.79 L363.5 450.41 L365.0 446.22 L366.5 442.20 L368.0 438.37 L369.5 434.72 L371.0 431.25 L372.5 427.97 L374.0 424.87 L375.5 421.96 L377.0 419.24 L378.5 416.71 L380.0 414.36 L381.5 412.20 L383.0 410.23 L384.5 408.44 L386.0 406.84 L387.5 405.42 L389.0 404.19 L390.5 403.15 L392.0 402.28 L393.5 401.60 L395.0 401.11 L396.5 400.80 L398.0 400.67 L399.5 400.73 L401.0 400.96 L402.5 401.38 L404.0 401.99 L405.5 402.78 L407.0 403.75 L408.5 404.91 L410.0 406.25 L411.5 407.78 L413.0 409.49 L414.5 411.39 L416.0 413.47 L417.5 415.75 L419.0 418.21 L420.5 420.85 L422.0 423.69 L423.5 426.71 L425.0 429.91 L426.5 433.31 L428.0 436.88 L429.5 440.65 L431.0 444.59 L432.5 448.71 L434.0 453.02 L435.5 457.49 L437.0 462.14 L438.5 466.96 L440.0 471.95 L441.5 477.10 L443.0 482.40 L444.5 487.86 L446.0 493.46 L447.5 499.20 L449.0 505.07 L450.5 511.08 L452.0 517.20 L453.5 523.43 L455.0 529.77 L456.5 536.20 L458.0 542.73 L459.5 549.32 L461.0 555.99 L462.5 562.72 L464.0 569.49 L465.5 576.30 L467.0 583.15 L468.5 590.01 L470.0 596.88 L471.5 603.75 L473.0 610.60 L474.5 617.44 L476.0 624.24 L477.5 630.99 L479.0 637.70 L480.5 644.34 L482.0 650.91 L483.5 657.40 L485.0 663.80 L486.5 670.10 L488.0 676.30 L489.5 682.38 L491.0 688.33 L492.5 694.16 L494.0 699.85 L495.5 705.40 L497.0 710.80 L498.5 716.05 L500.0 721.13 L501.5 726.06 L503.0 730.82 L504.5 735.41 L506.0 739.82 L507.5 744.06 L509.0 748.12 L510.5 751.99 L512.0 755.69 L513.5 759.20 L515.0 762.52 L516.5 765.66 L518.0 768.61 L519.5 771.38 L521.0 773.96 L522.5 776.35 L524.0 778.55 L525.5 780.57 L527.0 782.40 L528.5 784.04 L530.0 785.50 L531.5 786.78 L533.0 787.87 L534.5 788.77 L536.0 789.49 L537.5 790.03 L539.0 790.38 L540.5 790.55 L542.0 790.54 L543.5 790.35 L545.0 789.97 L546.5 789.41 L548.0 788.66 L549.5 787.73 L551.0 786.62 L552.5 785.32 L554.0 783.83 L555.5 782.16 L557.0 780.31 L558.5 778.27 L560.0 776.04 L561.5 773.62 L563.0 771.02 L564.5 768.23 L566.0 765.25 L567.5 762.09 L569.0 758.74 L570.5 755.20 L572.0 751.49 L573.5 747.58 L575.0 743.50 L576.5 739.24 L578.0 734.80 L579.5 730.19 L581.0 725.41 L582.5 720.47 L584.0 715.36 L585.5 710.09 L587.0 704.67 L588.5 699.10 L590.0 693.39 L591.5 687.55 L593.0 681.57 L594.5 675.48 L596.0 669.27 L597.5 662.95 L599.0 656.54 L600.5 650.04 L602.0 643.46 L603.5 636.81 L605.0 630.10 L606.5 623.33 L608.0 616.53 L609.5 609.69 L611.0 602.83 L612.5 595.96 L614.0 589.09 L615.5 582.23 L617.0 575.39 L618.5 568.58 L620.0 561.82 L621.5 555.10 L623.0 548.44 L624.5 541.85 L626.0 535.34 L627.5 528.92 L629.0 522.60 L630.5 516.38 L632.0 510.27 L633.5 504.28 L635.0 498.43 L636.5 492.70 L638.0 487.12 L639.5 481.68 L641.0 476.40 L642.5 471.28 L644.0 466.31 L645.5 461.51 L647.0 456.89 L648.5 452.43 L650.0 448.15 L651.5 444.05 L653.0 440.13 L654.5 436.40 L656.0 432.84 L657.5 429.48 L659.0 426.29 L660.5 423.30 L662.0 420.49 L663.5 417.87 L665.0 415.43 L666.5 413.19 L668.0 411.13 L669.5 409.25 L671.0 407.56 L672.5 406.06 L674.0 404.74 L675.5 403.61 L677.0 402.66 L678.5 401.90 L680.0 401.32 L681.5 400.92 L683.0 400.71 L684.5 400.68 L686.0 400.83 L687.5 401.17 L689.0 401.68 L690.5 402.39 L692.0 403.27 L693.5 404.34 L695.0 405.60 L696.5 407.04 L698.0 408.67 L699.5 410.48 L701.0 412.48 L702.5 414.66 L704.0 417.04 L705.5 419.59 L707.0 422.34 L708.5 425.27 L710.0 428.39 L711.5 431.70 L713.0 435.19 L714.5 438.87 L716.0 442.73 L717.5 446.77 L719.0 450.99 L720.5 455.38 L722.0 459.95 L723.5 464.69 L725.0 469.60 L726.5 474.68 L728.0 479.91 L729.5 485.29 L731.0 490.83 L732.5 496.50 L734.0 502.32 L735.5 508.26 L737.0 514.33 L738.5 520.51 L740.0 526.80 L741.5 533.19 L743.0 539.67 L744.5 546.23 L746.0 552.87 L747.5 559.57 L749.0 566.32 L750.5 573.12 L752.0 579.95 L753.5 586.80 L755.0 593.67 L756.5 600.54 L758.0 607.41 L759.5 614.25 L761.0 621.07 L762.5 627.85 L764.0 634.58 L765.5 641.25 L767.0 647.86 L768.5 654.39 L770.0 660.83 L771.5 667.18 L773.0 673.42 L774.5 679.55 L776.0 685.57 L777.5 691.46 L779.0 697.21 L780.5 702.83 L782.0 708.30 L783.5 713.62 L785.0 718.78 L786.5 723.78 L788.0 728.62 L789.5 733.29 L791.0 737.78 L792.5 742.10 L794.0 746.24 L795.5 750.21 L797.0 753.99 L798.5 757.58 L800.0 760.99 L801.5 764.22 L803.0 767.26 L804.5 770.11 L806.0 772.78 L807.5 775.25 L809.0 777.54 L810.5 779.65 L812.0 781.57 L813.5 783.30 L815.0 784.84 L816.5 786.20 L818.0 787.38 L819.5 788.37 L821.0 789.18 L822.5 789.80 L824.0 790.24 L825.5 790.50 L827.0 790.57 L828.5 790.46 L830.0 790.17 L831.5 789.69 L833.0 789.03 L834.5 788.19 L836.0 787.16 L837.5 785.95 L839.0 784.55 L840.5 782.97 L842.0 781.20 L843.5 779.24 L845.0 777.10 L846.5 774.77 L848.0 772.26 L849.5 769.55 L851.0 766.66 L852.5 763.59 L854.0 760.33 L855.5 756.88 L857.0 753.24 L858.5 749.43 L860.0 745.43 L861.5 741.25 L863.0 736.90 L864.5 732.37 L866.0 727.66 L867.5 722.79 L869.0 717.76 L870.5 712.57 L872.0 707.22 L873.5 701.72 L875.0 696.07 L876.5 690.29 L878.0 684.38 L879.5 678.34 L881.0 672.18 L882.5 665.91 L884.0 659.55 L885.5 653.09 L887.0 646.54 L888.5 639.92 L890.0 633.24 L891.5 626.49 L893.0 619.71 L894.5 612.88 L896.0 606.03 L897.5 599.17 L899.0 592.30 L900.5 585.43 L902.0 578.58 L903.5 571.76 L905.0 564.97 L906.5 558.23 L908.0 551.54 L909.5 544.92 L911.0 538.37 L912.5 531.91 L914.0 525.53 L915.5 519.26 L917.0 513.10 L918.5 507.06 L920.0 501.14 L921.5 495.36 L923.0 489.71 L924.5 484.20 L926.0 478.85 L927.5 473.65 L929.0 468.61 L930.5 463.73 L932.0 459.03 L933.5 454.49 L935.0 450.13 L936.5 445.94 L938.0 441.94 L939.5 438.12 L941.0 434.48 L942.5 431.02 L944.0 427.76 L945.5 424.67 L947.0 421.78 L948.5 419.07 L950.0 416.55 L951.5 414.21 L953.0 412.06 L954.5 410.10 L956.0 408.33 L957.5 406.74 L959.0 405.33 L960.5 404.12 L962.0 403.08 L963.5 402.23 L965.0 401.57 L966.5 401.08 L968.0 400.78 L969.5 400.67 L971.0 400.74 L972.5 400.99 L974.0 401.42 L975.5 402.04 L977.0 402.84 L978.5 403.82 L980.0 404.99 L981.5 406.35 L983.0 407.89 L984.5 409.61 L986.0 411.52 L987.5 413.62 L989.0 415.91 L990.5 418.38 L992.0 421.04 L993.5 423.88 L995.0 426.92 L996.5 430.13 L998.0 433.54 L999.5 437.13 L1001.0 440.90 L1002.5 444.86 L1004.0 449.00 L1005.5 453.31 L1007.0 457.80 L1008.5 462.46 L1010.0 467.29 L1011.5 472.29 L1013.0 477.45 L1014.5 482.76 L1016.0 488.23 L1017.5 493.84 L1019.0 499.59 L1020.5 505.47 L1022.0 511.48 L1023.5 517.61 L1025.0 523.85 L1026.5 530.20 L1028.0 536.64 L1029.5 543.16 L1031.0 549.77 L1032.5 556.44 L1034.0 563.17 L1035.5 569.94 L1037.0 576.76 L1038.5 583.60 L1040.0 590.47 L1041.5 597.34 L1043.0 604.20 L1044.5 611.06 L1046.0 617.89 L1047.5 624.69 L1049.0 631.44 L1050.5 638.14 L1052.0 644.78 L1053.5 651.35 L1055.0 657.83 L1056.5 664.23 L1058.0 670.52 L1059.5 676.71 L1061.0 682.78 L1062.5 688.73 L1064.0 694.54 L1065.5 700.23 L1067.0 705.76 L1068.5 711.15 L1070.0 716.39 L1071.5 721.47 L1073.0 726.38 L1074.5 731.13 L1076.0 735.71 L1077.5 740.11 L1079.0 744.33 L1080.5 748.38 L1082.0 752.24 L1083.5 755.93 L1085.0 759.42 L1086.5 762.74 L1088.0 765.86 L1089.5 768.80 L1091.0 771.55 L1092.5 774.12 L1094.0 776.50 L1095.5 778.69 L1097.0 780.69 L1098.5 782.51 L1100.0 784.15 L1101.5 785.59 L1103.0 786.85 L1104.5 787.93 L1106.0 788.82 L1107.5 789.53 L1109.0 790.06 L1110.5 790.40 L1112.0 790.56 L1113.5 790.53 L1115.0 790.33 L1116.5 789.94 L1118.0 789.36 L1119.5 788.60 L1121.0 787.66 L1122.5 786.54 L1124.0 785.22 L1125.5 783.73 L1127.0 782.05 L1128.5 780.18 L1130.0 778.12 L1131.5 775.88 L1133.0 773.45 L1134.5 770.84 L1136.0 768.04 L1137.5 765.05 L1139.0 761.87 L1140.5 758.51 L1142.0 754.96 L1143.5 751.23 L1145.0 747.32 L1146.5 743.22 L1148.0 738.95 L1149.5 734.50 L1151.0 729.88 L1152.5 725.09 L1154.0 720.13 L1155.5 715.01 L1157.0 709.73 L1158.5 704.30 L1160.0 698.72 L1161.5 693.01 L1163.0 687.15 L1164.5 681.17 L1166.0 675.07 L1167.5 668.85 L1169.0 662.53 L1170.5 656.11 L1172.0 649.61 L1173.5 643.02 L1175.0 636.36 L1176.5 629.65 L1178.0 622.88 L1179.5 616.07 L1181.0 609.23 L1182.5 602.37 L1184.0 595.50 L1185.5 588.64 L1187.0 581.78 L1188.5 574.94 L1190.0 568.13 L1191.5 561.37 L1193.0 554.65 L1194.5 548.00 L1196.0 541.41 L1197.5 534.91 L1199.0 528.50 L1200.5 522.18 L1202.0 515.97 L1203.5 509.87 L1205.0 503.89 L1206.5 498.04 L1208.0 492.33 L1209.5 486.75 L1211.0 481.33 L1212.5 476.06 L1214.0 470.94 L1215.5 465.99 L1217.0 461.20 L1218.5 456.58 L1220.0 452.14 L1221.5 447.87 L1223.0 443.79 L1224.5 439.88 L1226.0 436.15 L1227.5 432.61 L1229.0 429.26 L1230.5 426.09 L1232.0 423.10 L1233.5 420.31 L1235.0 417.70 L1236.5 415.28 L1238.0 413.04 L1239.5 410.99 L1241.0 409.13 L1242.5 407.46 L1244.0 405.97 L1245.5 404.66 L1247.0 403.54 L1248.5 402.61 L1250.0 401.85 L1251.5 401.29 L1253.0 400.90 L1254.5 400.70 L1256.0 400.68 L1257.5 400.85 L1259.0 401.19 L1260.5 401.73 L1262.0 402.44 L1263.5 403.34 L1265.0 404.42 L1266.5 405.69 L1268.0 407.14 L1269.5 408.78 L1271.0 410.61 L1272.5 412.62 L1274.0 414.82 L1275.5 417.20 L1277.0 419.77 L1278.5 422.53 L1280.0 425.48 L1281.5 428.61 L1283.0 431.93 L1284.5 435.43 L1286.0 439.12 L1287.5 442.99 L1289.0 447.04 L1290.5 451.27 L1292.0 455.68 L1293.5 460.26 L1295.0 465.02 L1296.5 469.94 L1298.0 475.02 L1299.5 480.26 L1301.0 485.66 L1302.5 491.20 L1304.0 496.89 L1305.5 502.71 L1307.0 508.66 L1308.5 514.74 L1310.0 520.93 L1311.5 527.22 L1313.0 533.62 L1314.5 540.11 L1316.0 546.68 L1317.5 553.32 L1319.0 560.02 L1320.5 566.78 L1322.0 573.57 L1323.5 580.41 L1325.0 587.26 L1326.5 594.13 L1328.0 601.00 L1329.5 607.86 L1331.0 614.71 L1332.5 621.52 L1334.0 628.30 L1335.5 635.02 L1337.0 641.69 L1338.5 648.29 L1340.0 654.82 L1341.5 661.25 L1343.0 667.60 L1344.5 673.83 L1346.0 679.96 L1347.5 685.97 L1349.0 691.84 L1350.5 697.59 L1352.0 703.20 L1353.5 708.66 L1355.0 713.97 L1356.5 719.12 L1358.0 724.11 L1359.5 728.94 L1361.0 733.59 L1362.5 738.08 L1364.0 742.38 L1365.5 746.51 L1367.0 750.46 L1368.5 754.23 L1370.0 757.81 L1371.5 761.21 L1373.0 764.43 L1374.5 767.45 L1376.0 770.29 L1377.5 772.95 L1379.0 775.41 L1380.5 777.69 L1382.0 779.78 L1383.5 781.69 L1385.0 783.41 L1386.5 784.94 L1388.0 786.29 L1389.5 787.45 L1391.0 788.43 L1392.5 789.23 L1394.0 789.84 L1395.5 790.26 L1397.0 790.51 L1398.5 790.57 L1400.0 790.45 L1401.5 790.14 L1403.0 789.65 L1404.5 788.98 L1406.0 788.12 L1407.5 787.08 L1409.0 785.86 L1410.5 784.45 L1412.0 782.85 L1413.5 781.07 L1415.0 779.11 L1416.5 776.95 L1418.0 774.61 L1419.5 772.08 L1421.0 769.37 L1422.5 766.47 L1424.0 763.38 L1425.5 760.10 L1427.0 756.64 L1428.5 753.00 L1430.0 749.17 L1431.5 745.16 L1433.0 740.97 L1434.5 736.60 L1436.0 732.06 L1437.5 727.35 L1439.0 722.46 L1440.5 717.42 L1442.0 712.21 L1443.5 706.85 L1445.0 701.34 L1446.5 695.69 L1448.0 689.90 L1449.5 683.98 L1451.0 677.93 L1452.5 671.77 L1454.0 665.49 L1455.5 659.12 L1457.0 652.65 L1458.5 646.10 L1460.0 639.48 L1461.5 632.79 L1463.0 626.04 L1464.5 619.25 L1466.0 612.43 L1467.5 605.58 L1469.0 598.71 L1470.5 591.84 L1472.0 584.98 L1473.5 578.13 L1475.0 571.30 L1476.5 564.52 L1478.0 557.78 L1479.5 551.09 L1481.0 544.48 L1482.5 537.94 L1484.0 531.48 L1485.5 525.11 L1487.0 518.85 L1488.5 512.70 L1490.0 506.66 L1491.5 500.75 L1493.0 494.98 L1494.5 489.34 L1496.0 483.84 L1497.5 478.50 L1499.0 473.31 L1500.5 468.28 L1502.0 463.41 L1503.5 458.72 L1505.0 454.19 L1506.5 449.84 L1508.0 445.67 L1509.5 441.68 L1511.0 437.87 L1512.5 434.24 L1514.0 430.80 L1515.5 427.54 L1517.0 424.47 L1518.5 421.59 L1520.0 418.89 L1521.5 416.38 L1523.0 414.06 L1524.5 411.93 L1526.0 409.98 L1527.5 408.22 L1529.0 406.64 L1530.5 405.25 L1532.0 404.04 L1533.5 403.02 L1535.0 402.18 L1536.5 401.53 L1538.0 401.06 L1539.5 400.77 L1541.0 400.67 L1542.5 400.75 L1544.0 401.01 L1545.5 401.45 L1547.0 402.08 L1548.5 402.90 L1550.0 403.89 L1551.5 405.08 L1553.0 406.44 L1554.5 407.99 L1556.0 409.73 L1557.5 411.66 L1559.0 413.77 L1560.5 416.06 L1562.0 418.55 L1563.5 421.22 L1565.0 424.08 L1566.5 427.12 L1568.0 430.36 L1569.5 433.77 L1571.0 437.38 L1572.5 441.16 L1574.0 445.13 L1575.5 449.28 L1577.0 453.60 L1578.5 458.10 L1580.0 462.78 L1581.5 467.62 L1583.0 472.63 L1584.5 477.80 L1586.0 483.12 L1587.5 488.59 L1589.0 494.22 L1590.5 499.98 L1592.0 505.87 L1593.5 511.89 L1595.0 518.02 L1596.5 524.27 L1598.0 530.62 L1599.5 537.07 L1601.0 543.60 L1602.5 550.21 L1604.0 556.88 L1605.5 563.62 L1607.0 570.40 L1608.5 577.22 L1610.0 584.06 L1611.5 590.92 L1613.0 597.79 L1614.5 604.66 L1616.0 611.52 L1617.5 618.35 L1619.0 625.14 L1620.5 631.89 L1622.0 638.59 L1623.5 645.22 L1625.0 651.78 L1626.5 658.26 L1628.0 664.65 L1629.5 670.94 L1631.0 677.11 L1632.5 683.18 L1634.0 689.12 L1635.5 694.93 L1637.0 700.60 L1638.5 706.13 L1640.0 711.51 L1641.5 716.73 L1643.0 721.80 L1644.5 726.70 L1646.0 731.44 L1647.5 736.00 L1649.0 740.40 L1650.5 744.61 L1652.0 748.64 L1653.5 752.50 L1655.0 756.17 L1656.5 759.65 L1658.0 762.95 L1659.5 766.06 L1661.0 768.99 L1662.5 771.73 L1664.0 774.28 L1665.5 776.65 L1667.0 778.83 L1668.5 780.82 L1670.0 782.63 L1671.5 784.25 L1673.0 785.68 L1674.5 786.93 L1676.0 788.00 L1677.5 788.88 L1679.0 789.57 L1680.5 790.09 L1682.0 790.42 L1683.5 790.56 L1685.0 790.53 L1686.5 790.31 L1688.0 789.90 L1689.5 789.32 L1691.0 788.55 L1692.5 787.59 L1694.0 786.45 L1695.5 785.13 L1697.0 783.62 L1698.5 781.93 L1700.0 780.05 L1701.5 777.98 L1703.0 775.73 L1704.5 773.29 L1706.0 770.66 L1707.5 767.84 L1709.0 764.84 L1710.5 761.65 L1712.0 758.28 L1713.5 754.72 L1715.0 750.98 L1716.5 747.05 L1718.0 742.94 L1719.5 738.66 L1721.0 734.20 L1722.5 729.57 L1724.0 724.76 L1725.5 719.79 L1727.0 714.66 L1728.5 709.37 L1730.0 703.93 L1731.5 698.35 L1733.0 692.62 L1734.5 686.76 L1736.0 680.77 L1737.5 674.66 L1739.0 668.43 L1740.5 662.11 L1742.0 655.68 L1743.5 649.17 L1745.0 642.58 L1746.5 635.92 L1748.0 629.20 L1749.5 622.43 L1751.0 615.62 L1752.5 608.78 L1754.0 601.92 L1755.5 595.05 L1757.0 588.18 L1758.5 581.32 L1760.0 574.48 L1761.5 567.68 L1763.0 560.92 L1764.5 554.21 L1766.0 547.56 L1767.5 540.98 L1769.0 534.48 L1770.5 528.07 L1772.0 521.76 L1773.5 515.56 L1775.0 509.46 L1776.5 503.50 L1778.0 497.65 L1779.5 491.95 L1781.0 486.39 L1782.5 480.97 L1784.0 475.71 L1785.5 470.60 L1787.0 465.66 L1788.5 460.89 L1790.0 456.28 L1791.5 451.85 L1793.0 447.60 L1794.5 443.52 L1796.0 439.63 L1797.5 435.91 L1799.0 432.38 L1800.5 429.04 L1802.0 425.88 L1803.5 422.91 L1805.0 420.13 L1806.5 417.53"/>
<path stroke="#ff00ff" d="M210.5 746.37 L212.0 742.16 L213.5 737.77 L215.0 733.20 L216.5 728.46 L218.0 723.55 L219.5 718.48 L221.0 713.25 L222.5 707.87 L224.0 702.33 L225.5 696.66 L227.0 690.84 L228.5 684.90 L230.0 678.83 L231.5 672.64 L233.0 666.34 L234.5 659.95 L236.0 653.46 L237.5 646.88 L239.0 640.24 L240.5 633.52 L242.0 626.76 L243.5 619.94 L245.0 613.09 L246.5 606.22 L248.0 599.33 L249.5 592.43 L251.0 585.54 L252.5 578.66 L254.0 571.81 L255.5 564.99 L257.0 558.22 L258.5 551.51 L260.0 544.86 L261.5 538.28 L263.0 531.79 L264.5 525.39 L266.0 519.09 L267.5 512.90 L269.0 506.83 L270.5 500.88 L272.0 495.06 L273.5 489.38 L275.0 483.84 L276.5 478.45 L278.0 473.21 L279.5 468.14 L281.0 463.23 L282.5 458.48 L284.0 453.91 L285.5 449.51 L287.0 445.29 L288.5 441.24 L290.0 437.38 L291.5 433.70 L293.0 430.21 L294.5 426.90 L296.0 423.78 L297.5 420.84 L299.0 418.09 L300.5 415.53 L302.0 413.16 L303.5 410.97 L305.0 408.97 L306.5 407.15 L308.0 405.53 L309.5 404.08 L311.0 402.83 L312.5 401.75 L314.0 400.87 L315.5 400.16 L317.0 399.64 L318.5 399.31 L320.0 399.15 L321.5 399.18 L323.0 399.40 L324.5 399.80 L326.0 400.38 L327.5 401.14 L329.0 402.09 L330.5 403.22 L332.0 404.54 L333.5 406.05 L335.0 407.74 L336.5 409.61 L338.0 411.68 L339.5 413.93 L341.0 416.36 L342.5 418.99 L344.0 421.80 L345.5 424.80 L347.0 427.98 L348.5 431.35 L350.0 434.91 L351.5 438.65 L353.0 442.57 L354.5 446.67 L356.0 450.96 L357.5 455.41 L359.0 460.04 L360.5 464.84 L362.0 469.81 L363.5 474.94 L365.0 480.23 L366.5 485.67 L368.0 491.25 L369.5 496.98 L371.0 502.85 L372.5 508.84 L374.0 514.95 L375.5 521.18 L377.0 527.51 L378.5 533.95 L380.0 540.47 L381.5 547.07 L383.0 553.74 L384.5 560.48 L386.0 567.26 L387.5 574.09 L389.0 580.95 L390.5 587.83 L392.0 594.73 L393.5 601.62 L395.0 608.51 L396.5 615.38 L398.0 622.22 L399.5 629.02 L401.0 635.77 L402.5 642.46 L404.0 649.08 L405.5 655.63 L407.0 662.09 L408.5 668.45 L410.0 674.71 L411.5 680.86 L413.0 686.89 L414.5 692.80 L416.0 698.57 L417.5 704.20 L419.0 709.68 L420.5 715.01 L422.0 720.19 L423.5 725.21 L425.0 730.06 L426.5 734.74 L428.0 739.25 L429.5 743.58 L431.0 747.74 L432.5 751.72 L434.0 755.51 L435.5 759.12 L437.0 762.55 L438.5 765.79 L440.0 768.84 L441.5 771.71 L443.0 774.39 L444.5 776.88 L446.0 779.19 L447.5 781.31 L449.0 783.24 L450.5 784.99 L452.0 786.55 L453.5 787.92 L455.0 789.11 L456.5 790.12 L458.0 790.94 L459.5 791.57 L461.0 792.03 L462.5 792.30 L464.0 792.38 L465.5 792.28 L467.0 792.00 L468.5 791.54 L470.0 790.89 L471.5 790.06 L473.0 789.04 L474.5 787.84 L476.0 786.45 L477.5 784.88 L479.0 783.12 L480.5 781.17 L482.0 779.04 L483.5 776.72 L485.0 774.22 L486.5 771.53 L488.0 768.65 L489.5 765.58 L491.0 762.33 L492.5 758.89 L494.0 755.26 L495.5 751.46 L497.0 747.47 L498.5 743.30 L500.0 738.95 L501.5 734.43 L503.0 729.74 L504.5 724.88 L506.0 719.85 L507.5 714.66 L509.0 709.32 L510.5 703.82 L512.0 698.18 L513.5 692.41 L515.0 686.49 L516.5 680.46 L518.0 674.30 L519.5 668.03 L521.0 661.66 L522.5 655.20 L524.0 648.65 L525.5 642.02 L527.0 635.32 L528.5 628.57 L530.0 621.76 L531.5 614.92 L533.0 608.05 L534.5 601.16 L536.0 594.27 L537.5 587.37 L539.0 580.49 L540.5 573.63 L542.0 566.81 L543.5 560.02 L545.0 553.29 L546.5 546.63 L548.0 540.03 L549.5 533.51 L551.0 527.09 L552.5 520.76 L554.0 514.54 L555.5 508.44 L557.0 502.45 L558.5 496.60 L560.0 490.88 L561.5 485.30 L563.0 479.87 L564.5 474.59 L566.0 469.48 L567.5 464.52 L569.0 459.73 L570.5 455.11 L572.0 450.67 L573.5 446.40 L575.0 442.30 L576.5 438.39 L578.0 434.67 L579.5 431.12 L581.0 427.77 L582.5 424.59 L584.0 421.61 L585.5 418.81 L587.0 416.20 L588.5 413.77 L590.0 411.53 L591.5 409.48 L593.0 407.62 L594.5 405.94 L596.0 404.45 L597.5 403.14 L599.0 402.02 L600.5 401.08 L602.0 400.33 L603.5 399.76 L605.0 399.38 L606.5 399.18 L608.0 399.16 L609.5 399.32 L611.0 399.67 L612.5 400.20 L614.0 400.92 L615.5 401.82 L617.0 402.90 L618.5 404.17 L620.0 405.63 L621.5 407.27 L623.0 409.10 L624.5 411.11 L626.0 413.31 L627.5 415.70 L629.0 418.27 L630.5 421.03 L632.0 423.98 L633.5 427.12 L635.0 430.44 L636.5 433.94 L638.0 437.63 L639.5 441.51 L641.0 445.56 L642.5 449.80 L644.0 454.21 L645.5 458.79 L647.0 463.55 L648.5 468.47 L650.0 473.56 L651.5 478.80 L653.0 484.20 L654.5 489.75 L656.0 495.44 L657.5 501.27 L659.0 507.23 L660.5 513.31 L662.0 519.51 L663.5 525.82 L665.0 532.22 L666.5 538.72 L668.0 545.30 L669.5 551.96 L671.0 558.67 L672.5 565.45 L674.0 572.27 L675.5 579.12 L677.0 586.00 L678.5 592.89 L680.0 599.78 L681.5 606.68 L683.0 613.55 L684.5 620.40 L686.0 627.21 L687.5 633.97 L689.0 640.68 L690.5 647.33 L692.0 653.89 L693.5 660.38 L695.0 666.77 L696.5 673.06 L698.0 679.23 L699.5 685.30 L701.0 691.23 L702.5 697.04 L704.0 702.71 L705.5 708.23 L707.0 713.61 L708.5 718.83 L710.0 723.88 L711.5 728.78 L713.0 733.51 L714.5 738.06 L716.0 742.44 L717.5 746.65 L719.0 750.67 L720.5 754.52 L722.0 758.18 L723.5 761.65 L725.0 764.94 L726.5 768.05 L728.0 770.96 L729.5 773.69 L731.0 776.24 L732.5 778.59 L734.0 780.76 L735.5 782.74 L737.0 784.54 L738.5 786.15 L740.0 787.57 L741.5 788.81 L743.0 789.87 L744.5 790.74 L746.0 791.42 L747.5 791.92 L749.0 792.24 L750.5 792.38 L752.0 792.33 L753.5 792.09 L755.0 791.68 L756.5 791.08 L758.0 790.30 L759.5 789.33 L761.0 788.18 L762.5 786.84 L764.0 785.31 L765.5 783.61 L767.0 781.71 L768.5 779.63 L770.0 777.36 L771.5 774.90 L773.0 772.26 L774.5 769.43 L776.0 766.42 L777.5 763.21 L779.0 759.82 L780.5 756.25 L782.0 752.49 L783.5 748.55 L785.0 744.43 L786.5 740.13 L788.0 735.66 L789.5 731.01 L791.0 726.19 L792.5 721.21 L794.0 716.06 L795.5 710.76 L797.0 705.30 L798.5 699.70 L800.0 693.96 L801.5 688.08 L803.0 682.08 L804.5 675.95 L806.0 669.71 L807.5 663.37 L809.0 656.93 L810.5 650.40 L812.0 643.79 L813.5 637.11 L815.0 630.37 L816.5 623.58 L818.0 616.75 L819.5 609.89 L821.0 603.00 L822.5 596.11 L824.0 589.21 L825.5 582.33 L827.0 575.46 L828.5 568.62 L830.0 561.83 L831.5 555.08 L833.0 548.40 L834.5 541.78 L836.0 535.24 L837.5 528.79 L839.0 522.44 L840.5 516.19 L842.0 510.05 L843.5 504.04 L845.0 498.15 L846.5 492.39 L848.0 486.77 L849.5 481.30 L851.0 475.99 L852.5 470.82 L854.0 465.83 L855.5 460.99 L857.0 456.33 L858.5 451.83 L860.0 447.52 L861.5 443.38 L863.0 439.42 L864.5 435.64 L866.0 432.05 L867.5 428.64 L869.0 425.42 L870.5 422.39 L872.0 419.54 L873.5 416.87 L875.0 414.40 L876.5 412.11 L878.0 410.01 L879.5 408.10 L881.0 406.37 L882.5 404.83 L884.0 403.47 L885.5 402.30 L887.0 401.32 L888.5 400.51 L890.0 399.90 L891.5 399.46 L893.0 399.21 L894.5 399.14 L896.0 399.26 L897.5 399.56 L899.0 400.04 L900.5 400.71 L902.0 401.56 L903.5 402.60 L905.0 403.82 L906.5 405.22 L908.0 406.81 L909.5 408.59 L911.0 410.55 L912.5 412.70 L914.0 415.04 L915.5 417.57 L917.0 420.28 L918.5 423.18 L920.0 426.26 L921.5 429.53 L923.0 432.99 L924.5 436.63 L926.0 440.46 L927.5 444.46 L929.0 448.65 L930.5 453.01 L932.0 457.55 L933.5 462.26 L935.0 467.14 L936.5 472.19 L938.0 477.39 L939.5 482.75 L941.0 488.26 L942.5 493.91 L944.0 499.70 L945.5 505.63 L947.0 511.68 L948.5 517.85 L950.0 524.12 L951.5 530.50 L953.0 536.98 L954.5 543.54 L956.0 550.17 L957.5 556.88 L959.0 563.64 L960.5 570.44 L962.0 577.29 L963.5 584.16 L965.0 591.05 L966.5 597.95 L968.0 604.84 L969.5 611.72 L971.0 618.57 L972.5 625.40 L974.0 632.17 L975.5 638.90 L977.0 645.56 L978.5 652.15 L980.0 658.66 L981.5 665.07 L983.0 671.39 L984.5 677.60 L986.0 683.69 L987.5 689.66 L989.0 695.51 L990.5 701.21 L992.0 706.77 L993.5 712.19 L995.0 717.45 L996.5 722.55 L998.0 727.49 L999.5 732.26 L1001.0 736.87 L1002.5 741.29 L1004.0 745.55 L1005.5 749.62 L1007.0 753.51 L1008.5 757.22 L1010.0 760.74 L1011.5 764.08 L1013.0 767.24 L1014.5 770.20 L1016.0 772.99 L1017.5 775.58 L1019.0 777.98 L1020.5 780.20 L1022.0 782.23 L1023.5 784.08 L1025.0 785.74 L1026.5 787.21 L1028.0 788.50 L1029.5 789.60 L1031.0 790.52 L1032.5 791.26 L1034.0 791.81 L1035.5 792.17 L1037.0 792.36 L1038.5 792.36 L1040.0 792.17 L1041.5 791.81 L1043.0 791.26 L1044.5 790.52 L1046.0 789.60 L1047.5 788.50 L1049.0 787.21 L1050.5 785.74 L1052.0 784.08 L1053.5 782.23 L1055.0 780.20 L1056.5 777.98 L1058.0 775.58 L1059.5 772.99 L1061.0 770.20 L1062.5 767.24 L1064.0 764.08 L1065.5 760.74 L1067.0 757.22 L1068.5 753.51 L1070.0 749.62 L1071.5 745.55 L1073.0 741.29 L1074.5 736.87 L1076.0 732.26 L1077.5 727.49 L1079.0 722.55 L1080.5 717.45 L1082.0 712.19 L1083.5 706.77 L1085.0 701.21 L1086.5 695.51 L1088.0 689.66 L1089.5 683.69 L1091.0 677.60 L1092.5 671.39 L1094.0 665.07 L1095.5 658.66 L1097.0 652.15 L1098.5 645.56 L1100.0 638.90 L1101.5 632.17 L1103.0 625.40 L1104.5 618.57 L1106.0 611.72 L1107.5 604.84 L1109.0 597.95 L1110.5 591.05 L1112.0 584.16 L1113.5 577.29 L1115.0 570.44 L1116.5 563.64 L1118.0 556.88 L1119.5 550.17 L1121.0 543.54 L1122.5 536.98 L1124.0 530.50 L1125.5 524.12 L1127.0 517.85 L1128.5 511.68 L1130.0 505.63 L1131.5 499.70 L1133.0 493.91 L1134.5 488.26 L1136.0 482.75 L1137.5 477.39 L1139.0 472.19 L1140.5 467.14 L1142.0 462.26 L1143.5 457.55 L1145.0 453.01 L1146.5 448.65 L1148.0 444.46 L1149.5 440.46 L1151.0 436.63 L1152.5 432.99 L1154.0 429.53 L1155.5 426.26 L1157.0 423.18 L1158.5 420.28 L1160.0 417.57 L1161.5 415.04 L1163.0 412.70 L1164.5 410.55 L1166.0 408.59 L1167.5 406.81 L1169.0 405.22 L1170.5 403.82 L1172.0 402.60 L1173.5 401.56 L1175.0 400.71 L1176.5 400.04 L1178.0 399.56 L1179.5 399.26 L1181.0 399.14 L1182.5 399.21 L1184.0 399.46 L1185.5 399.90 L1187.0 400.51 L1188.5 401.32 L1190.0 402.30 L1191.5 403.47 L1193.0 404.83 L1194.5 406.37 L1196.0 408.10 L1197.5 410.01 L1199.0 412.11 L1200.5 414.40 L1202.0 416.87 L1203.5 419.54 L1205.0 422.39 L1206.5 425.42 L1208.0 428.64 L1209.5 432.05 L1211.0 435.64 L1212.5 439.42 L1214.0 443.38 L1215.5 447.52 L1217.0 451.83 L1218.5 456.33 L1220.0 460.99 L1221.5 465.83 L1223.0 470.82 L1224.5 475.99 L1226.0 481.30 L1227.5 486.77 L1229.0 492.39 L1230.5 498.15 L1232.0 504.04 L1233.5 510.05 L1235.0 516.19 L1236.5 522.44 L1238.0 528.79 L1239.5 535.24 L1241.0 541.78 L1242.5 548.40 L1244.0 555.08 L1245.5 561.83 L1247.0 568.62 L1248.5 575.46 L1250.0 582.33 L1251.5 589.21 L1253.0 596.11 L1254.5 603.00 L1256.0 609.89 L1257.5 616.75 L1259.0 623.58 L1260.5 630.37 L1262.0 637.11 L1263.5 643.79 L1265.0 650.40 L1266.5 656.93 L1268.0 663.37 L1269.5 669.71 L1271.0 675.95 L1272.5 682.08 L1274.0 688.08 L1275.5 693.96 L1277.0 699.70 L1278.5 705.30 L1280.0 710.76 L1281.5 716.06 L1283.0 721.21 L1284.5 726.19 L1286.0 731.01 L1287.5 735.66 L1289.0 740.13 L1290.5 744.43 L1292.0 748.55 L1293.5 752.49 L1295.0 756.25 L1296.5 759.82 L1298.0 763.21 L1299.5 766.42 L1301.0 769.43 L1302.5 772.26 L1304.0 774.90 L1305.5 777.36 L1307.0 779.63 L1308.5 781.71 L1310.0 783.61 L1311.5 785.31 L1313.0 786.84 L1314.5 788.18 L1316.0 789.33 L1317.5 790.30 L1319.0 791.08 L1320.5 791.68 L1322.0 792.09 L1323.5 792.33 L1325.0 792.38 L1326.5 792.24 L1328.0 791.92 L1329.5 791.42 L1331.0 790.74 L1332.5 789.87 L1334.0 788.81 L1335.5 787.57 L1337.0 786.15 L1338.5 784.54 L1340.0 782.74 L1341.5 780.76 L1343.0 778.59 L1344.5 776.24 L1346.0 773.69 L1347.5 770.96 L1349.0 768.05 L1350.5 764.94 L1352.0 761.65 L1353.5 758.18 L1355.0 754.52 L1356.5 750.67 L1358.0 746.65 L1359.5 742.44 L1361.0 738.06 L1362.5 733.51 L1364.0 728.78 L1365.5 723.88 L1367.0 718.83 L1368.5 713.61 L1370.0 708.23 L1371.5 702.71 L1373.0 697.04 L1374.5 691.23 L1376.0 685.30 L1377.5 679.23 L1379.0 673.06 L1380.5 666.77 L1382.0 660.38 L1383.5 653.89 L1385.0 647.33 L1386.5 640.68 L1388.0 633.97 L1389.5 627.21 L1391.0 620.40 L1392.5 613.55 L1394.0 606.68 L1395.5 599.78 L1397.0 592.89 L1398.5 586.00 L1400.0 579.12 L1401.5 572.27 L1403.0 565.45 L1404.5 558.67 L1406.0 551.96 L1407.5 545.30 L1409.0 538.72 L1410.5 532.22 L1412.0 525.82 L1413.5 519.51 L1415.0 513.31 L1416.5 507.23 L1418.0 501.27 L1419.5 495.44 L1421.0 489.75 L1422.5 484.20 L1424.0 478.80 L1425.5 473.56 L1427.0 468.47 L1428.5 463.55 L1430.0 458.79 L1431.5 454.21 L1433.0 449.80 L1434.5 445.56 L1436.0 441.51 L1437.5 437.63 L1439.0 433.94 L1440.5 430.44 L1442.0 427.12 L1443.5 423.98 L1445.0 421.03 L1446.5 418.27 L1448.0 415.70 L1449.5 413.31 L1451.0 411.11 L1452.5 409.10 L1454.0 407.27 L1455.5 405.63 L1457.0 404.17 L1458.5 402.90 L1460.0 401.82 L1461.5 400.92 L1463.0 400.20 L1464.5 399.67 L1466.0 399.32 L1467.5 399.16 L1469.0 399.18 L1470.5 399.38 L1472.0 399.76 L1473.5 400.33 L1475.0 401.08 L1476.5 402.02 L1478.0 403.14 L1479.5 404.45 L1481.0 405.94 L1482.5 407.62 L1484.0 409.48 L1485.5 411.53 L1487.0 413.77 L1488.5 416.20 L1490.0 418.81 L1491.5 421.61 L1493.0 424.59 L1494.5 427.77 L1496.0 431.12 L1497.5 434.67 L1499.0 438.39 L1500.5 442.30 L1502.0 446.40 L1503.5 450.67 L1505.0 455.11 L1506.5 459.73 L1508.0 464.52 L1509.5 469.48 L1511.0 474.59 L1512.5 479.87 L1514.0 485.30 L1515.5 490.88 L1517.0 496.60 L1518.5 502.45 L1520.0 508.44 L1521.5 514.54 L1523.0 520.76 L1524.5 527.09 L1526.0 533.51 L1527.5 540.03 L1529.0 546.63 L1530.5 553.29 L1532.0 560.02 L1533.5 566.81 L1535.0 573.63 L1536.5 580.49 L1538.0 587.37 L1539.5 594.27 L1541.0 601.16 L1542.5 608.05 L1544.0 614.92 L1545.5 621.76 L1547.0 628.57 L1548.5 635.32 L1550.0 642.02 L1551.5 648.65 L1553.0 655.20 L1554.5 661.66 L1556.0 668.03 L1557.5 674.30 L1559.0 680.46 L1560.5 686.49 L1562.0 692.41 L1563.5 698.18 L1565.0 703.82 L1566.5 709.32 L1568.0 714.66 L1569.5 719.85 L1571.0 724.88 L1572.5 729.74 L1574.0 734.43 L1575.5 738.95 L1577.0 743.30 L1578.5 747.47 L1580.0 751.46 L1581.5 755.26 L1583.0 758.89 L1584.5 762.33 L1586.0 765.58 L1587.5 768.65 L1589.0 771.53 L1590.5 774.22 L1592.0 776.72 L1593.5 779.04 L1595.0 781.17 L1596.5 783.12 L1598.0 784.88 L1599.5 786.45 L1601.0 787.84 L1602.5 789.04 L1604.0 790.06 L1605.5 790.89 L1607.0 791.54 L1608.5 792.00 L1610.0 792.28 L1611.5 792.38 L1613.0 792.30 L1614.5 792.03 L1616.0 791.57 L1617.5 790.94 L1619.0 790.12 L1620.5 789.11 L1622.0 787.92 L1623.5 786.55 L1625.0 784.99 L1626.5 783.24 L1628.0 781.31 L1629.5 779.19 L1631.0 776.88 L1632.5 774.39 L1634.0 771.71 L1635.5 768.84 L1637.0 765.79 L1638.5 762.55 L1640.0 759.12 L1641.5 755.51 L1643.0 751.72 L1644.5 747.74 L1646.0 743.58 L1647.5 739.25 L1649.0 734.74 L1650.5 730.06 L1652.0 725.21 L1653.5 720.19 L1655.0 715.01 L1656.5 709.68 L1658.0 704.20 L1659.5 698.57 L1661.0 692.80 L1662.5 686.89 L1664.0 680.86 L1665.5 674.71 L1667.0 668.45 L1668.5 662.09 L1670.0 655.63 L1671.5 649.08 L1673.0 642.46 L1674.5 635.77 L1676.0 629.02 L1677.5 622.22 L1679.0 615.38 L1680.5 608.51 L1682.0 601.62 L1683.5 594.73 L1685.0 587.83 L1686.5 580.95 L1688.0 574.09 L1689.5 567.26 L1691.0 560.48 L1692.5 553.74 L1694.0 547.07 L1695.5 540.47 L1697.0 533.95 L1698.5 527.51 L1700.0 521.18 L1701.5 514.95 L1703.0 508.84 L1704.5 502.85 L1706.0 496.98 L1707.5 491.25 L1709.0 485.67 L1710.5 480.23 L1712.0 474.94 L1713.5 469.81 L1715.0 464.84 L1716.5 460.04 L1718.0 455.41 L1719.5 450.96 L1721.0 446.67 L1722.5 442.57 L1724.0 438.65 L1725.5 434.91 L1727.0 431.35 L1728.5 427.98 L1730.0 424.80 L1731.5 421.80 L1733.0 418.99 L1734.5 416.36 L1736.0 413.93 L1737.5 411.68 L1739.0 409.61 L1740.5 407.74 L1742.0 406.05 L1743.5 404.54 L1745.0 403.22 L1746.5 402.09 L1748.0 401.14 L1749.5 400.38 L1751.0 399.80 L1752.5 399.40 L1754.0 399.18 L1755.5 399.15 L1757.0 399.31 L1758.5 399.64 L1760.0 400.16 L1761.5 400.87 L1763.0 401.75 L1764.5 402.83 L1766.0 404.08 L1767.5 405.53 L1769.0 407.15 L1770.5 408.97 L1772.0 410.97 L1773.5 413.16 L1775.0 415.53 L1776.5 418.09 L1778.0 420.84 L1779.5 423.78 L1781.0 426.90 L1782.5 430.21 L1784.0 433.70 L1785.5 437.38 L1787.0 441.24 L1788.5 445.29 L1790.0 449.51 L1791.5 453.91 L1793.0 458.48 L1794.5 463.23 L1796.0 468.14 L1797.5 473.21 L1799.0 478.45 L1800.5 483.84 L1802.0 489.38 L1803.5 495.06 L1805.0 500.88 L1806.5 506.83"/>
<path stroke="#008000" d="M210.5 470.69 L212.0 465.65 L213.5 460.79 L215.0 456.09 L216.5 451.57 L218.0 447.22 L219.5 443.04 L221.0 439.05 L222.5 435.24 L224.0 431.61 L225.5 428.17 L227.0 424.91 L228.5 421.83 L230.0 418.95 L231.5 416.25 L233.0 413.74 L234.5 411.41 L236.0 409.28 L237.5 407.33 L239.0 405.56 L240.5 403.98 L242.0 402.59 L243.5 401.38 L245.0 400.36 L246.5 399.52 L248.0 398.86 L249.5 398.39 L251.0 398.10 L252.5 398.00 L254.0 398.08 L255.5 398.34 L257.0 398.79 L258.5 399.42 L260.0 400.23 L261.5 401.23 L263.0 402.42 L264.5 403.79 L266.0 405.34 L267.5 407.08 L269.0 409.01 L270.5 411.12 L272.0 413.42 L273.5 415.90 L275.0 418.58 L276.5 421.44 L278.0 424.49 L279.5 427.72 L281.0 431.14 L282.5 434.74 L284.0 438.53 L285.5 442.50 L287.0 446.65 L288.5 450.98 L290.0 455.48 L291.5 460.15 L293.0 465.00 L294.5 470.01 L296.0 475.18 L297.5 480.50 L299.0 485.98 L300.5 491.61 L302.0 497.37 L303.5 503.27 L305.0 509.30 L306.5 515.44 L308.0 521.70 L309.5 528.07 L311.0 534.53 L312.5 541.07 L314.0 547.70 L315.5 554.40 L317.0 561.16 L318.5 567.97 L320.0 574.82 L321.5 581.70 L323.0 588.60 L324.5 595.52 L326.0 602.43 L327.5 609.34 L329.0 616.22 L330.5 623.08 L332.0 629.90 L333.5 636.66 L335.0 643.37 L336.5 650.01 L338.0 656.57 L339.5 663.05 L341.0 669.42 L342.5 675.70 L344.0 681.86 L345.5 687.91 L347.0 693.83 L348.5 699.61 L350.0 705.26 L351.5 710.76 L353.0 716.11 L354.5 721.31 L356.0 726.34 L357.5 731.21 L359.0 735.91 L360.5 740.44 L362.0 744.79 L363.5 748.97 L365.0 752.97 L366.5 756.78 L368.0 760.41 L369.5 763.86 L371.0 767.12 L372.5 770.20 L374.0 773.09 L375.5 775.79 L377.0 778.31 L378.5 780.64 L380.0 782.78 L381.5 784.73 L383.0 786.50 L384.5 788.08 L386.0 789.48 L387.5 790.69 L389.0 791.72 L390.5 792.56 L392.0 793.22 L393.5 793.70 L395.0 793.99 L396.5 794.09 L398.0 794.02 L399.5 793.76 L401.0 793.32 L402.5 792.69 L404.0 791.88 L405.5 790.88 L407.0 789.70 L408.5 788.34 L410.0 786.79 L411.5 785.05 L413.0 783.13 L414.5 781.02 L416.0 778.72 L417.5 776.24 L419.0 773.57 L420.5 770.71 L422.0 767.67 L423.5 764.44 L425.0 761.03 L426.5 757.43 L428.0 753.64 L429.5 749.68 L431.0 745.53 L432.5 741.21 L434.0 736.71 L435.5 732.04 L437.0 727.20 L438.5 722.19 L440.0 717.02 L441.5 711.70 L443.0 706.23 L444.5 700.60 L446.0 694.84 L447.5 688.94 L449.0 682.92 L450.5 676.78 L452.0 670.52 L453.5 664.16 L455.0 657.70 L456.5 651.15 L458.0 644.53 L459.5 637.83 L461.0 631.07 L462.5 624.26 L464.0 617.41 L465.5 610.53 L467.0 603.63 L468.5 596.72 L470.0 589.80 L471.5 582.90 L473.0 576.01 L474.5 569.15 L476.0 562.34 L477.5 555.57 L479.0 548.86 L480.5 542.22 L482.0 535.66 L483.5 529.18 L485.0 522.80 L486.5 516.52 L488.0 510.35 L489.5 504.31 L491.0 498.38 L492.5 492.60 L494.0 486.95 L495.5 481.44 L497.0 476.09 L498.5 470.89 L500.0 465.85 L501.5 460.98 L503.0 456.28 L504.5 451.74 L506.0 447.39 L507.5 443.21 L509.0 439.21 L510.5 435.39 L512.0 431.75 L513.5 428.30 L515.0 425.03 L516.5 421.95 L518.0 419.06 L519.5 416.35 L521.0 413.84 L522.5 411.50 L524.0 409.36 L525.5 407.40 L527.0 405.63 L528.5 404.04 L530.0 402.64 L531.5 401.43 L533.0 400.39 L534.5 399.55 L536.0 398.89 L537.5 398.41 L539.0 398.11 L540.5 398.00 L542.0 398.07 L543.5 398.33 L545.0 398.77 L546.5 399.39 L548.0 400.20 L549.5 401.19 L551.0 402.37 L552.5 403.73 L554.0 405.27 L555.5 407.01 L557.0 408.92 L558.5 411.03 L560.0 413.32 L561.5 415.80 L563.0 418.47 L564.5 421.32 L566.0 424.36 L567.5 427.59 L569.0 431.00 L570.5 434.60 L572.0 438.38 L573.5 442.34 L575.0 446.48 L576.5 450.80 L578.0 455.29 L579.5 459.96 L581.0 464.80 L582.5 469.80 L584.0 474.97 L585.5 480.29 L587.0 485.76 L588.5 491.38 L590.0 497.14 L591.5 503.03 L593.0 509.05 L594.5 515.19 L596.0 521.45 L597.5 527.81 L599.0 534.27 L600.5 540.81 L602.0 547.44 L603.5 554.13 L605.0 560.89 L606.5 567.70 L608.0 574.54 L609.5 581.42 L611.0 588.33 L612.5 595.24 L614.0 602.16 L615.5 609.06 L617.0 615.95 L618.5 622.81 L620.0 629.62 L621.5 636.39 L623.0 643.10 L624.5 649.74 L626.0 656.31 L627.5 662.79 L629.0 669.17 L630.5 675.45 L632.0 681.62 L633.5 687.67 L635.0 693.59 L636.5 699.39 L638.0 705.04 L639.5 710.55 L641.0 715.90 L642.5 721.10 L644.0 726.14 L645.5 731.02 L647.0 735.73 L648.5 740.26 L650.0 744.62 L651.5 748.81 L653.0 752.81 L654.5 756.63 L656.0 760.27 L657.5 763.73 L659.0 767.00 L660.5 770.08 L662.0 772.98 L663.5 775.69 L665.0 778.21 L666.5 780.55 L668.0 782.70 L669.5 784.66 L671.0 786.43 L672.5 788.02 L674.0 789.43 L675.5 790.65 L677.0 791.68 L678.5 792.53 L680.0 793.20 L681.5 793.68 L683.0 793.98 L684.5 794.09 L686.0 794.03 L687.5 793.77 L689.0 793.34 L690.5 792.72 L692.0 791.91 L693.5 790.93 L695.0 789.75 L696.5 788.40 L698.0 786.85 L699.5 785.13 L701.0 783.21 L702.5 781.11 L704.0 778.82 L705.5 776.34 L707.0 773.68 L708.5 770.83 L710.0 767.80 L711.5 764.57 L713.0 761.17 L714.5 757.57 L716.0 753.80 L717.5 749.84 L719.0 745.70 L720.5 741.38 L722.0 736.89 L723.5 732.23 L725.0 727.39 L726.5 722.39 L728.0 717.23 L729.5 711.92 L731.0 706.45 L732.5 700.83 L734.0 695.07 L735.5 689.18 L737.0 683.16 L738.5 677.02 L740.0 670.77 L741.5 664.41 L743.0 657.96 L744.5 651.42 L746.0 644.79 L747.5 638.10 L749.0 631.34 L750.5 624.54 L752.0 617.69 L753.5 610.81 L755.0 603.91 L756.5 596.99 L758.0 590.08 L759.5 583.17 L761.0 576.28 L762.5 569.43 L764.0 562.61 L765.5 555.84 L767.0 549.13 L768.5 542.48 L770.0 535.92 L771.5 529.44 L773.0 523.05 L774.5 516.77 L776.0 510.60 L777.5 504.54 L779.0 498.62 L780.5 492.82 L782.0 487.17 L783.5 481.66 L785.0 476.30 L786.5 471.10 L788.0 466.05 L789.5 461.17 L791.0 456.46 L792.5 451.92 L794.0 447.56 L795.5 443.37 L797.0 439.36 L798.5 435.54 L800.0 431.89 L801.5 428.43 L803.0 425.16 L804.5 422.07 L806.0 419.17 L807.5 416.46 L809.0 413.93 L810.5 411.59 L812.0 409.44 L813.5 407.47 L815.0 405.69 L816.5 404.10 L818.0 402.69 L819.5 401.47 L821.0 400.43 L822.5 399.58 L824.0 398.91 L825.5 398.42 L827.0 398.12 L828.5 398.00 L830.0 398.07 L831.5 398.32 L833.0 398.75 L834.5 399.36 L836.0 400.16 L837.5 401.15 L839.0 402.32 L840.5 403.67 L842.0 405.21 L843.5 406.93 L845.0 408.84 L846.5 410.94 L848.0 413.23 L849.5 415.70 L851.0 418.36 L852.5 421.20 L854.0 424.24 L855.5 427.45 L857.0 430.86 L858.5 434.45 L860.0 438.22 L861.5 442.18 L863.0 446.31 L864.5 450.62 L866.0 455.11 L867.5 459.77 L869.0 464.60 L870.5 469.60 L872.0 474.76 L873.5 480.07 L875.0 485.54 L876.5 491.15 L878.0 496.90 L879.5 502.79 L881.0 508.81 L882.5 514.95 L884.0 521.20 L885.5 527.55 L887.0 534.01 L888.5 540.55 L890.0 547.17 L891.5 553.86 L893.0 560.62 L894.5 567.42 L896.0 574.27 L897.5 581.15 L899.0 588.05 L900.5 594.96 L902.0 601.88 L903.5 608.79 L905.0 615.67 L906.5 622.53 L908.0 629.35 L909.5 636.12 L911.0 642.84 L912.5 649.48 L914.0 656.05 L915.5 662.53 L917.0 668.92 L918.5 675.20 L920.0 681.38 L921.5 687.43 L923.0 693.36 L924.5 699.16 L926.0 704.81 L927.5 710.33 L929.0 715.69 L930.5 720.90 L932.0 725.94 L933.5 730.83 L935.0 735.54 L936.5 740.08 L938.0 744.45 L939.5 748.64 L941.0 752.65 L942.5 756.48 L944.0 760.13 L945.5 763.59 L947.0 766.87 L948.5 769.96 L950.0 772.87 L951.5 775.58 L953.0 778.11 L954.5 780.46 L956.0 782.61 L957.5 784.58 L959.0 786.37 L960.5 787.96 L962.0 789.38 L963.5 790.60 L965.0 791.64 L966.5 792.50 L968.0 793.18 L969.5 793.66 L971.0 793.97 L972.5 794.09 L974.0 794.03 L975.5 793.79 L977.0 793.36 L978.5 792.75 L980.0 791.95 L981.5 790.97 L983.0 789.81 L984.5 788.46 L986.0 786.92 L987.5 785.20 L989.0 783.29 L990.5 781.20 L992.0 778.92 L993.5 776.45 L995.0 773.79 L996.5 770.95 L998.0 767.92 L999.5 764.71 L1001.0 761.31 L1002.5 757.72 L1004.0 753.95 L1005.5 750.00 L1007.0 745.87 L1008.5 741.56 L1010.0 737.08 L1011.5 732.42 L1013.0 727.59 L1014.5 722.60 L1016.0 717.44 L1017.5 712.13 L1019.0 706.67 L1020.5 701.06 L1022.0 695.31 L1023.5 689.42 L1025.0 683.41 L1026.5 677.27 L1028.0 671.02 L1029.5 664.67 L1031.0 658.22 L1032.5 651.68 L1034.0 645.06 L1035.5 638.37 L1037.0 631.61 L1038.5 624.81 L1040.0 617.96 L1041.5 611.08 L1043.0 604.18 L1044.5 597.27 L1046.0 590.35 L1047.5 583.45 L1049.0 576.56 L1050.5 569.70 L1052.0 562.88 L1053.5 556.11 L1055.0 549.39 L1056.5 542.75 L1058.0 536.18 L1059.5 529.69 L1061.0 523.30 L1062.5 517.02 L1064.0 510.84 L1065.5 504.78 L1067.0 498.85 L1068.5 493.05 L1070.0 487.39 L1071.5 481.88 L1073.0 476.51 L1074.5 471.30 L1076.0 466.25 L1077.5 461.36 L1079.0 456.65 L1080.5 452.10 L1082.0 447.73 L1083.5 443.53 L1085.0 439.52 L1086.5 435.69 L1088.0 432.04 L1089.5 428.57 L1091.0 425.29 L1092.5 422.19 L1094.0 419.29 L1095.5 416.56 L1097.0 414.03 L1098.5 411.68 L1100.0 409.52 L1101.5 407.55 L1103.0 405.76 L1104.5 404.16 L1106.0 402.75 L1107.5 401.52 L1109.0 400.47 L1110.5 399.61 L1112.0 398.93 L1113.5 398.44 L1115.0 398.13 L1116.5 398.00 L1118.0 398.06 L1119.5 398.30 L1121.0 398.73 L1122.5 399.33 L1124.0 400.13 L1125.5 401.10 L1127.0 402.26 L1128.5 403.61 L1130.0 405.14 L1131.5 406.86 L1133.0 408.76 L1134.5 410.86 L1136.0 413.13 L1137.5 415.60 L1139.0 418.25 L1140.5 421.09 L1142.0 424.11 L1143.5 427.32 L1145.0 430.72 L1146.5 434.30 L1148.0 438.07 L1149.5 442.01 L1151.0 446.14 L1152.5 450.45 L1154.0 454.93 L1155.5 459.58 L1157.0 464.41 L1158.5 469.40 L1160.0 474.55 L1161.5 479.86 L1163.0 485.32 L1164.5 490.92 L1166.0 496.67 L1167.5 502.55 L1169.0 508.57 L1170.5 514.70 L1172.0 520.94 L1173.5 527.30 L1175.0 533.75 L1176.5 540.28 L1178.0 546.90 L1179.5 553.59 L1181.0 560.35 L1182.5 567.15 L1184.0 573.99 L1185.5 580.87 L1187.0 587.77 L1188.5 594.69 L1190.0 601.60 L1191.5 608.51 L1193.0 615.40 L1194.5 622.26 L1196.0 629.08 L1197.5 635.85 L1199.0 642.57 L1200.5 649.22 L1202.0 655.79 L1203.5 662.27 L1205.0 668.66 L1206.5 674.95 L1208.0 681.13 L1209.5 687.19 L1211.0 693.13 L1212.5 698.93 L1214.0 704.59 L1215.5 710.11 L1217.0 715.48 L1218.5 720.69 L1220.0 725.75 L1221.5 730.64 L1223.0 735.36 L1224.5 739.91 L1226.0 744.28 L1227.5 748.48 L1229.0 752.50 L1230.5 756.33 L1232.0 759.99 L1233.5 763.46 L1235.0 766.74 L1236.5 769.84 L1238.0 772.75 L1239.5 775.48 L1241.0 778.02 L1242.5 780.37 L1244.0 782.53 L1245.5 784.51 L1247.0 786.30 L1248.5 787.90 L1250.0 789.32 L1251.5 790.56 L1253.0 791.61 L1254.5 792.47 L1256.0 793.15 L1257.5 793.65 L1259.0 793.96 L1260.5 794.09 L1262.0 794.04 L1263.5 793.80 L1265.0 793.38 L1266.5 792.77 L1268.0 791.99 L1269.5 791.01 L1271.0 789.86 L1272.5 788.51 L1274.0 786.98 L1275.5 785.27 L1277.0 783.37 L1278.5 781.28 L1280.0 779.01 L1281.5 776.55 L1283.0 773.90 L1284.5 771.07 L1286.0 768.05 L1287.5 764.84 L1289.0 761.45 L1290.5 757.87 L1292.0 754.11 L1293.5 750.16 L1295.0 746.04 L1296.5 741.74 L1298.0 737.26 L1299.5 732.61 L1301.0 727.79 L1302.5 722.80 L1304.0 717.65 L1305.5 712.35 L1307.0 706.89 L1308.5 701.29 L1310.0 695.54 L1311.5 689.66 L1313.0 683.65 L1314.5 677.52 L1316.0 671.28 L1317.5 664.93 L1319.0 658.48 L1320.5 651.94 L1322.0 645.32 L1323.5 638.64 L1325.0 631.89 L1326.5 625.08 L1328.0 618.24 L1329.5 611.36 L1331.0 604.46 L1332.5 597.55 L1334.0 590.63 L1335.5 583.72 L1337.0 576.83 L1338.5 569.97 L1340.0 563.15 L1341.5 556.38 L1343.0 549.66 L1344.5 543.01 L1346.0 536.44 L1347.5 529.95 L1349.0 523.56 L1350.5 517.27 L1352.0 511.09 L1353.5 505.02 L1355.0 499.09 L1356.5 493.28 L1358.0 487.62 L1359.5 482.09 L1361.0 476.72 L1362.5 471.51 L1364.0 466.45 L1365.5 461.56 L1367.0 456.83 L1368.5 452.28 L1370.0 447.90 L1371.5 443.70 L1373.0 439.68 L1374.5 435.84 L1376.0 432.18 L1377.5 428.70 L1379.0 425.42 L1380.5 422.31 L1382.0 419.40 L1383.5 416.67 L1385.0 414.13 L1386.5 411.77 L1388.0 409.61 L1389.5 407.63 L1391.0 405.83 L1392.5 404.22 L1394.0 402.80 L1395.5 401.56 L1397.0 400.51 L1398.5 399.64 L1400.0 398.96 L1401.5 398.45 L1403.0 398.14 L1404.5 398.00 L1406.0 398.05 L1407.5 398.29 L1409.0 398.71 L1410.5 399.31 L1412.0 400.09 L1413.5 401.06 L1415.0 402.21 L1416.5 403.55 L1418.0 405.08 L1419.5 406.79 L1421.0 408.68 L1422.5 410.77 L1424.0 413.04 L1425.5 415.49 L1427.0 418.14 L1428.5 420.97 L1430.0 423.99 L1431.5 427.19 L1433.0 430.58 L1434.5 434.15 L1436.0 437.91 L1437.5 441.85 L1439.0 445.97 L1440.5 450.27 L1442.0 454.75 L1443.5 459.39 L1445.0 464.21 L1446.5 469.19 L1448.0 474.34 L1449.5 479.64 L1451.0 485.09 L1452.5 490.70 L1454.0 496.44 L1455.5 502.32 L1457.0 508.32 L1458.5 514.45 L1460.0 520.69 L1461.5 527.04 L1463.0 533.49 L1464.5 540.02 L1466.0 546.64 L1467.5 553.32 L1469.0 560.07 L1470.5 566.88 L1472.0 573.72 L1473.5 580.60 L1475.0 587.50 L1476.5 594.41 L1478.0 601.33 L1479.5 608.23 L1481.0 615.12 L1482.5 621.98 L1484.0 628.81 L1485.5 635.58 L1487.0 642.30 L1488.5 648.95 L1490.0 655.53 L1491.5 662.02 L1493.0 668.41 L1494.5 674.70 L1496.0 680.89 L1497.5 686.95 L1499.0 692.89 L1500.5 698.70 L1502.0 704.37 L1503.5 709.89 L1505.0 715.27 L1506.5 720.49 L1508.0 725.55 L1509.5 730.44 L1511.0 735.17 L1512.5 739.73 L1514.0 744.11 L1515.5 748.31 L1517.0 752.34 L1518.5 756.18 L1520.0 759.85 L1521.5 763.32 L1523.0 766.62 L1524.5 769.72 L1526.0 772.64 L1527.5 775.37 L1529.0 777.92 L1530.5 780.28 L1532.0 782.45 L1533.5 784.43 L1535.0 786.23 L1536.5 787.84 L1538.0 789.27 L1539.5 790.51 L1541.0 791.57 L1542.5 792.44 L1544.0 793.13 L1545.5 793.63 L1547.0 793.95 L1548.5 794.09 L1550.0 794.04 L1551.5 793.81 L1553.0 793.40 L1554.5 792.80 L1556.0 792.02 L1557.5 791.06 L1559.0 789.91 L1560.5 788.57 L1562.0 787.05 L1563.5 785.34 L1565.0 783.45 L1566.5 781.37 L1568.0 779.10 L1569.5 776.65 L1571.0 774.01 L1572.5 771.18 L1574.0 768.17 L1575.5 764.97 L1577.0 761.58 L1578.5 758.01 L1580.0 754.26 L1581.5 750.32 L1583.0 746.21 L1584.5 741.91 L1586.0 737.44 L1587.5 732.80 L1589.0 727.98 L1590.5 723.00 L1592.0 717.86 L1593.5 712.56 L1595.0 707.11 L1596.5 701.51 L1598.0 695.77 L1599.5 689.90 L1601.0 683.89 L1602.5 677.77 L1604.0 671.53 L1605.5 665.18 L1607.0 658.74 L1608.5 652.21 L1610.0 645.59 L1611.5 638.91 L1613.0 632.16 L1614.5 625.36 L1616.0 618.51 L1617.5 611.64 L1619.0 604.74 L1620.5 597.82 L1622.0 590.91 L1623.5 584.00 L1625.0 577.11 L1626.5 570.25 L1628.0 563.42 L1629.5 556.65 L1631.0 549.93 L1632.5 543.28 L1634.0 536.70 L1635.5 530.21 L1637.0 523.81 L1638.5 517.52 L1640.0 511.33 L1641.5 505.26 L1643.0 499.32 L1644.5 493.51 L1646.0 487.84 L1647.5 482.31 L1649.0 476.93 L1650.5 471.71 L1652.0 466.65 L1653.5 461.75 L1655.0 457.02 L1656.5 452.46 L1658.0 448.07 L1659.5 443.86 L1661.0 439.83 L1662.5 435.99 L1664.0 432.32 L1665.5 428.84 L1667.0 425.54 L1668.5 422.43 L1670.0 419.51 L1671.5 416.78 L1673.0 414.23 L1674.5 411.86 L1676.0 409.69 L1677.5 407.70 L1679.0 405.90 L1680.5 404.28 L1682.0 402.85 L1683.5 401.61 L1685.0 400.55 L1686.5 399.67 L1688.0 398.98 L1689.5 398.47 L1691.0 398.15 L1692.5 398.01 L1694.0 398.05 L1695.5 398.28 L1697.0 398.69 L1698.5 399.28 L1700.0 400.06 L1701.5 401.02 L1703.0 402.17 L1704.5 403.50 L1706.0 405.01 L1707.5 406.72 L1709.0 408.61 L1710.5 410.68 L1712.0 412.94 L1713.5 415.39 L1715.0 418.03 L1716.5 420.85 L1718.0 423.86 L1719.5 427.06 L1721.0 430.44 L1722.5 434.01 L1724.0 437.76 L1725.5 441.69 L1727.0 445.80 L1728.5 450.10 L1730.0 454.56 L1731.5 459.20 L1733.0 464.01 L1734.5 468.99 L1736.0 474.13 L1737.5 479.42 L1739.0 484.87 L1740.5 490.47 L1742.0 496.21 L1743.5 502.08 L1745.0 508.08 L1746.5 514.20 L1748.0 520.44 L1749.5 526.78 L1751.0 533.23 L1752.5 539.76 L1754.0 546.37 L1755.5 553.06 L1757.0 559.80 L1758.5 566.60 L1760.0 573.45 L1761.5 580.32 L1763.0 587.22 L1764.5 594.13 L1766.0 601.05 L1767.5 607.96 L1769.0 614.85 L1770.5 621.71 L1772.0 628.54 L1773.5 635.31 L1775.0 642.03 L1776.5 648.69 L1778.0 655.26 L1779.5 661.76 L1781.0 668.16 L1782.5 674.45 L1784.0 680.64 L1785.5 686.71 L1787.0 692.66 L1788.5 698.47 L1790.0 704.14 L1791.5 709.67 L1793.0 715.05 L1794.5 720.28 L1796.0 725.35 L1797.5 730.25 L1799.0 734.98 L1800.5 739.55 L1802.0 743.94 L1803.5 748.15 L1805.0 752.18 L1806.5 756.03"/>
</g></g>
<text class="tick" transform="translate(190.20,58.90) scale(0.99,1.005)" text-anchor="end">0.3</text>
<text class="tick" transform="translate(190.20,253.40) scale(0.99,1.005)" text-anchor="end">0.2</text>
<text class="tick" transform="translate(190.20,447.90) scale(0.99,1.005)" text-anchor="end">0.1</text>
<text class="tick" transform="translate(190.20,642.40) scale(0.99,1.005)" text-anchor="end">0.0</text>
<text class="tick" transform="translate(190.20,836.90) scale(0.99,1.005)" text-anchor="end">-0.1</text>
<text class="tick" transform="translate(190.20,1031.40) scale(0.99,1.005)" text-anchor="end">-0.2</text>
<text class="tick" transform="translate(190.20,1225.90) scale(0.99,1.005)" text-anchor="end">-0.3</text>
<text class="tick" transform="translate(217.00,1275.10) scale(1,1.005)" text-anchor="middle">0</text>
<text class="tick" transform="translate(613.00,1275.10) scale(1,1.005)" text-anchor="middle">5</text>
<text class="tick" transform="translate(1009.00,1275.10) scale(1,1.005)" text-anchor="middle">10</text>
<text class="tick" transform="translate(1405.00,1275.10) scale(1,1.005)" text-anchor="middle">15</text>
<text class="tick" transform="translate(1801.00,1275.10) scale(1,1.005)" text-anchor="middle">20</text>
<text class="title" x="1008.9" y="1385" text-anchor="middle" letter-spacing="0.2">time (ms)</text>
<text class="title" transform="translate(57,792.8) rotate(-90)"><tspan font-style="italic">y</tspan><tspan dx="1.2" dy="25" font-size="41">p</tspan><tspan dy="-25" letter-spacing="0.7"> (mm)</tspan></text>
<line x1="292.3" y1="91.5" x2="432.5" y2="91.5" stroke="#000000" stroke-width="7" stroke-linecap="round"/>
<g><text class="leg it" transform="translate(450.37,112.60) scale(1.04,1)">T</text><text class="sub" x="483.60" y="136.00">S</text><text class="leg" transform="translate(506.55,109.50) scale(1.158,0.9)">=</text><text class="leg" transform="translate(543.25,112.70) scale(1,1.035)">|0|<tspan dx="-0.8">N</tspan><tspan dx="-0.7" dy="4.4">·</tspan><tspan dx="-2.9" dy="-4.4">m</tspan></text></g>
<line x1="772.3" y1="91.5" x2="912.5" y2="91.5" stroke="#ff0000" stroke-width="7" stroke-linecap="round"/>
<g><text class="leg it" transform="translate(929.38,112.60) scale(1.04,1)">T</text><text class="sub" x="963.40" y="136.00">S</text><text class="leg" transform="translate(986.50,109.50) scale(1.158,0.9)">=</text><text class="leg" transform="translate(1023.20,112.70) scale(1,1.035)">|0.02|<tspan dx="-0.8">N</tspan><tspan dx="-0.7" dy="4.4">·</tspan><tspan dx="-2.9" dy="-4.4">m</tspan></text></g>
<line x1="1298.3" y1="91.5" x2="1438.5" y2="91.5" stroke="#0000ff" stroke-width="7" stroke-linecap="round"/>
<g><text class="leg it" transform="translate(1456.38,112.60) scale(1.04,1)">T</text><text class="sub" x="1490.70" y="136.00">S</text><text class="leg" transform="translate(1513.50,109.50) scale(1.158,0.9)">=</text><text class="leg" transform="translate(1550.20,112.70) scale(1,1.035)">|0.04|<tspan dx="-0.8">N</tspan><tspan dx="-0.7" dy="4.4">·</tspan><tspan dx="-2.9" dy="-4.4">m</tspan></text></g>
<line x1="292.3" y1="200.5" x2="432.5" y2="200.5" stroke="#ff00ff" stroke-width="7" stroke-linecap="round"/>
<g><text class="leg it" transform="translate(450.37,221.60) scale(1.04,1)">T</text><text class="sub" x="483.60" y="245.00">S</text><text class="leg" transform="translate(506.55,218.50) scale(1.158,0.9)">=</text><text class="leg" transform="translate(543.25,221.70) scale(1,1.035)">|0.06|<tspan dx="-0.8">N</tspan><tspan dx="-0.7" dy="4.4">·</tspan><tspan dx="-2.9" dy="-4.4">m</tspan></text></g>
<line x1="787.3" y1="200.5" x2="927.5" y2="200.5" stroke="#008000" stroke-width="7" stroke-linecap="round"/>
<g><text class="leg it" transform="translate(945.38,221.60) scale(1.04,1)">T</text><text class="sub" x="979.55" y="245.00">S</text><text class="leg" transform="translate(1001.35,218.50) scale(1.158,0.9)">=</text><text class="leg" transform="translate(1038.05,221.70) scale(1,1.035)">|0.08|<tspan dx="-0.8">N</tspan><tspan dx="-0.7" dy="4.4">·</tspan><tspan dx="-2.9" dy="-4.4">m</tspan></text></g>
</svg>
</body></html>
